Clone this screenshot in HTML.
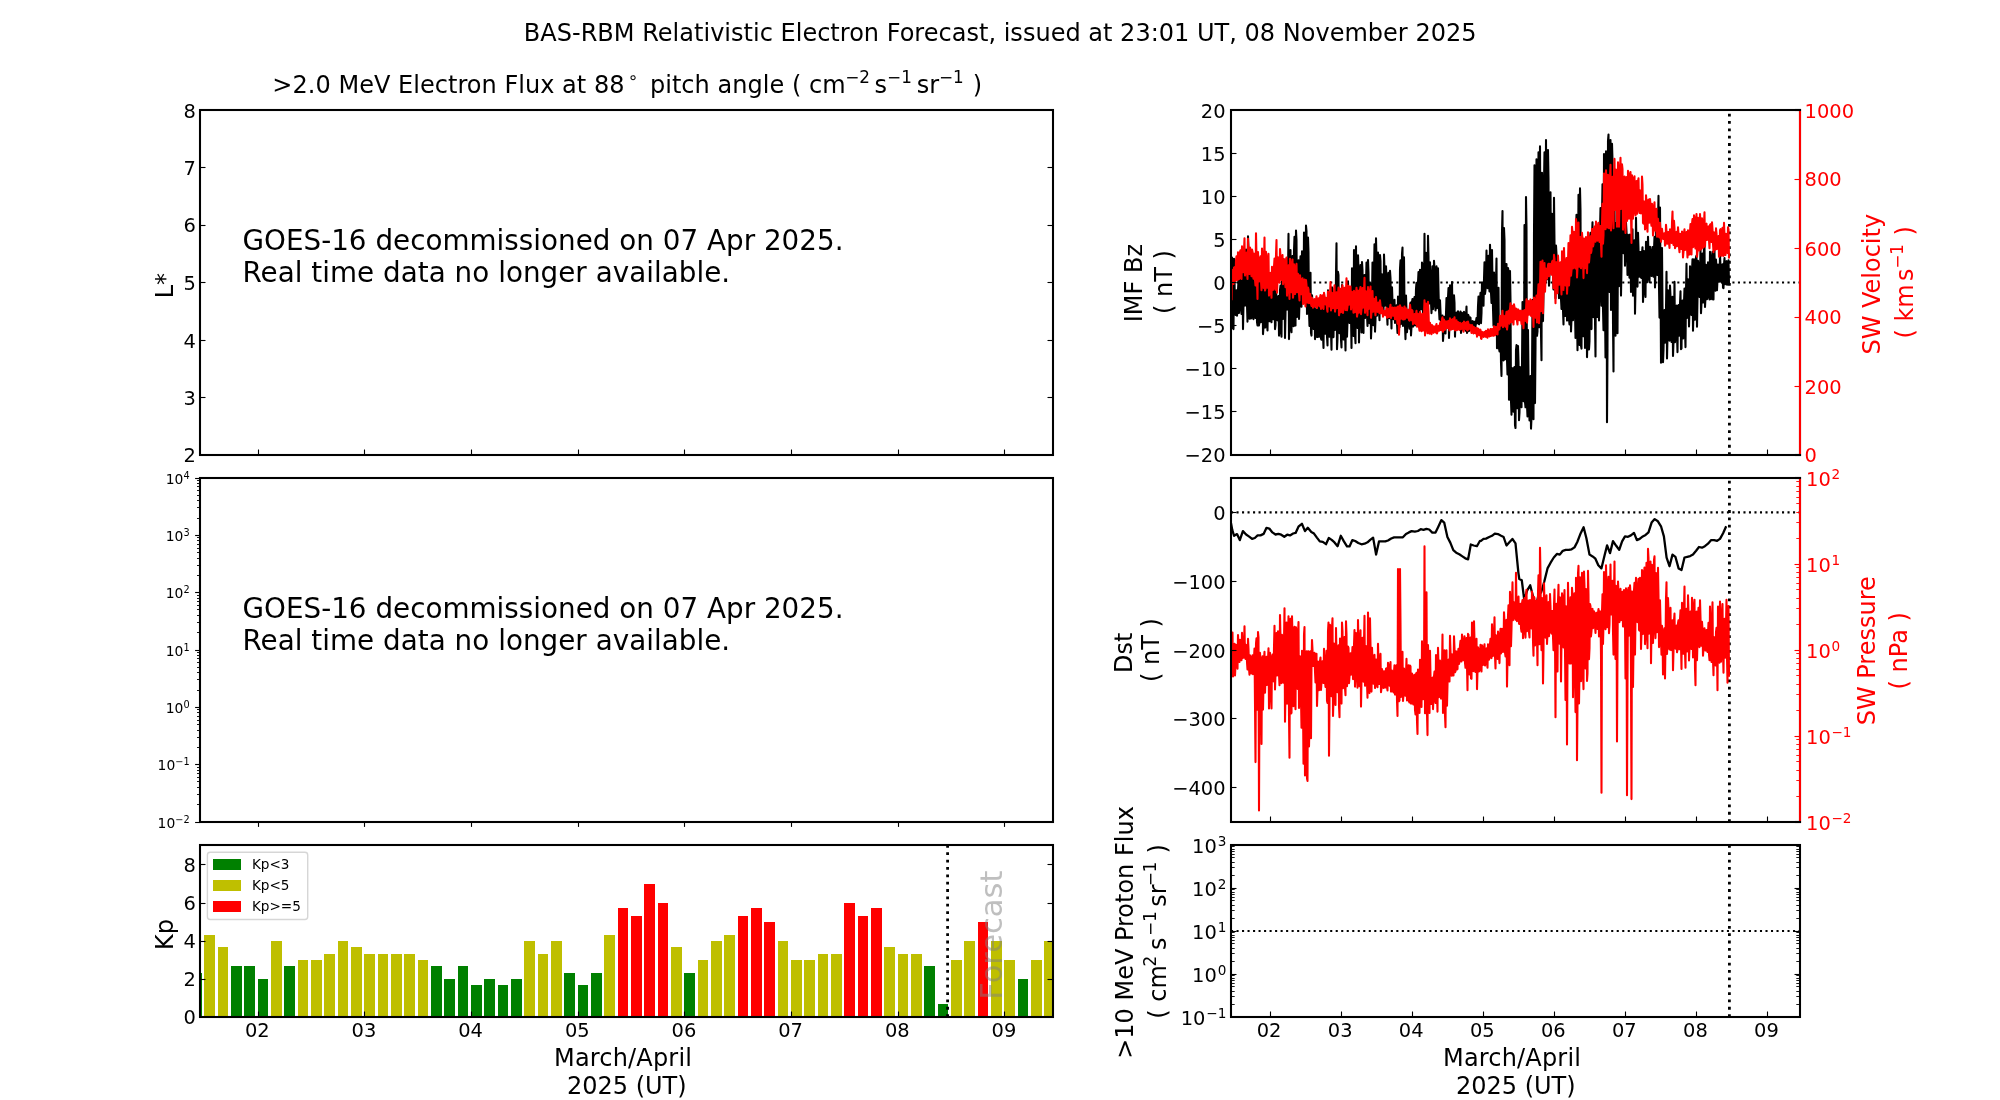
<!DOCTYPE html>
<html><head><meta charset="utf-8"><title>BAS-RBM Relativistic Electron Forecast</title>
<style>html,body{margin:0;padding:0;background:#fff}svg{display:block;will-change:transform}text{font-family:"DejaVu Sans","Liberation Sans",sans-serif;white-space:pre}</style></head>
<body>
<svg width="2000" height="1100" viewBox="0 0 2000 1100">
<rect width="2000" height="1100" fill="#fff"/>
<text x="1000.20" y="41.00" font-size="24" text-anchor="middle" textLength="952.7" lengthAdjust="spacing">BAS-RBM Relativistic Electron Forecast, issued at 23:01 UT, 08 November 2025</text>
<text x="272.31" y="93.00" font-size="24" textLength="352.2" lengthAdjust="spacing">&gt;2.0 MeV Electron Flux at 88</text>
<text x="627.64" y="82.80" font-size="16.8">∘</text>
<text x="649.92" y="93.00" font-size="24" textLength="195.7" lengthAdjust="spacing">pitch angle ( cm</text>
<text x="845.32" y="82.70" font-size="16.8">−2</text>
<text x="874.60" y="93.00" font-size="24">s</text>
<text x="887.12" y="82.70" font-size="16.8">−1</text>
<text x="916.80" y="93.00" font-size="24">sr</text>
<text x="939.02" y="82.70" font-size="16.8">−1</text>
<text x="972.78" y="93.00" font-size="24">)</text>
<text x="195.80" y="462.00" font-size="19.44" text-anchor="end">2</text>
<line x1="200.00" y1="397.50" x2="205.50" y2="397.50" stroke="#000" stroke-width="1.11"/>
<line x1="1053.00" y1="397.50" x2="1047.50" y2="397.50" stroke="#000" stroke-width="1.11"/>
<text x="195.80" y="405.00" font-size="19.44" text-anchor="end">3</text>
<line x1="200.00" y1="340.50" x2="205.50" y2="340.50" stroke="#000" stroke-width="1.11"/>
<line x1="1053.00" y1="340.50" x2="1047.50" y2="340.50" stroke="#000" stroke-width="1.11"/>
<text x="195.80" y="348.00" font-size="19.44" text-anchor="end">4</text>
<line x1="200.00" y1="282.50" x2="205.50" y2="282.50" stroke="#000" stroke-width="1.11"/>
<line x1="1053.00" y1="282.50" x2="1047.50" y2="282.50" stroke="#000" stroke-width="1.11"/>
<text x="195.80" y="290.00" font-size="19.44" text-anchor="end">5</text>
<line x1="200.00" y1="225.50" x2="205.50" y2="225.50" stroke="#000" stroke-width="1.11"/>
<line x1="1053.00" y1="225.50" x2="1047.50" y2="225.50" stroke="#000" stroke-width="1.11"/>
<text x="195.80" y="232.00" font-size="19.44" text-anchor="end">6</text>
<line x1="200.00" y1="167.50" x2="205.50" y2="167.50" stroke="#000" stroke-width="1.11"/>
<line x1="1053.00" y1="167.50" x2="1047.50" y2="167.50" stroke="#000" stroke-width="1.11"/>
<text x="195.80" y="175.00" font-size="19.44" text-anchor="end">7</text>
<text x="195.80" y="118.00" font-size="19.44" text-anchor="end">8</text>
<line x1="258.50" y1="455.00" x2="258.50" y2="449.50" stroke="#000" stroke-width="1.11"/>
<line x1="364.50" y1="455.00" x2="364.50" y2="449.50" stroke="#000" stroke-width="1.11"/>
<line x1="471.50" y1="455.00" x2="471.50" y2="449.50" stroke="#000" stroke-width="1.11"/>
<line x1="578.50" y1="455.00" x2="578.50" y2="449.50" stroke="#000" stroke-width="1.11"/>
<line x1="684.50" y1="455.00" x2="684.50" y2="449.50" stroke="#000" stroke-width="1.11"/>
<line x1="791.50" y1="455.00" x2="791.50" y2="449.50" stroke="#000" stroke-width="1.11"/>
<line x1="898.50" y1="455.00" x2="898.50" y2="449.50" stroke="#000" stroke-width="1.11"/>
<line x1="1004.50" y1="455.00" x2="1004.50" y2="449.50" stroke="#000" stroke-width="1.11"/>
<rect x="200" y="110" width="853" height="345" fill="none" stroke="#000" stroke-width="2.08"/>
<text x="242.50" y="250.00" font-size="27.78" textLength="601.0" lengthAdjust="spacing">GOES-16 decommissioned on 07 Apr 2025.</text>
<text x="242.50" y="282.00" font-size="27.78" textLength="487.6" lengthAdjust="spacing">Real time data no longer available.</text>
<text x="173.00" y="298.36" font-size="24" transform="rotate(-90 173.00 298.36)">L*</text>
<line x1="200.00" y1="478.50" x2="195.10" y2="478.50" stroke="#000" stroke-width="1.11"/>
<line x1="200.00" y1="518.50" x2="197.00" y2="518.50" stroke="#000" stroke-width="0.9"/>
<line x1="200.00" y1="507.50" x2="197.00" y2="507.50" stroke="#000" stroke-width="0.9"/>
<line x1="200.00" y1="500.50" x2="197.00" y2="500.50" stroke="#000" stroke-width="0.9"/>
<line x1="200.00" y1="495.50" x2="197.00" y2="495.50" stroke="#000" stroke-width="0.9"/>
<line x1="200.00" y1="490.50" x2="197.00" y2="490.50" stroke="#000" stroke-width="0.9"/>
<line x1="200.00" y1="486.50" x2="197.00" y2="486.50" stroke="#000" stroke-width="0.9"/>
<line x1="200.00" y1="483.50" x2="197.00" y2="483.50" stroke="#000" stroke-width="0.9"/>
<line x1="200.00" y1="480.50" x2="197.00" y2="480.50" stroke="#000" stroke-width="0.9"/>
<text x="183.42" y="478.80" font-size="9.72">4</text>
<text x="183.42" y="483.60" font-size="13.89" text-anchor="end">10</text>
<line x1="200.00" y1="535.50" x2="195.10" y2="535.50" stroke="#000" stroke-width="1.11"/>
<line x1="200.00" y1="575.50" x2="197.00" y2="575.50" stroke="#000" stroke-width="0.9"/>
<line x1="200.00" y1="565.50" x2="197.00" y2="565.50" stroke="#000" stroke-width="0.9"/>
<line x1="200.00" y1="558.50" x2="197.00" y2="558.50" stroke="#000" stroke-width="0.9"/>
<line x1="200.00" y1="552.50" x2="197.00" y2="552.50" stroke="#000" stroke-width="0.9"/>
<line x1="200.00" y1="548.50" x2="197.00" y2="548.50" stroke="#000" stroke-width="0.9"/>
<line x1="200.00" y1="544.50" x2="197.00" y2="544.50" stroke="#000" stroke-width="0.9"/>
<line x1="200.00" y1="540.50" x2="197.00" y2="540.50" stroke="#000" stroke-width="0.9"/>
<line x1="200.00" y1="537.50" x2="197.00" y2="537.50" stroke="#000" stroke-width="0.9"/>
<text x="183.42" y="536.13" font-size="9.72">3</text>
<text x="183.42" y="540.93" font-size="13.89" text-anchor="end">10</text>
<line x1="200.00" y1="592.50" x2="195.10" y2="592.50" stroke="#000" stroke-width="1.11"/>
<line x1="200.00" y1="632.50" x2="197.00" y2="632.50" stroke="#000" stroke-width="0.9"/>
<line x1="200.00" y1="622.50" x2="197.00" y2="622.50" stroke="#000" stroke-width="0.9"/>
<line x1="200.00" y1="615.50" x2="197.00" y2="615.50" stroke="#000" stroke-width="0.9"/>
<line x1="200.00" y1="609.50" x2="197.00" y2="609.50" stroke="#000" stroke-width="0.9"/>
<line x1="200.00" y1="605.50" x2="197.00" y2="605.50" stroke="#000" stroke-width="0.9"/>
<line x1="200.00" y1="601.50" x2="197.00" y2="601.50" stroke="#000" stroke-width="0.9"/>
<line x1="200.00" y1="598.50" x2="197.00" y2="598.50" stroke="#000" stroke-width="0.9"/>
<line x1="200.00" y1="595.50" x2="197.00" y2="595.50" stroke="#000" stroke-width="0.9"/>
<text x="183.42" y="593.47" font-size="9.72">2</text>
<text x="183.42" y="598.27" font-size="13.89" text-anchor="end">10</text>
<line x1="200.00" y1="650.50" x2="195.10" y2="650.50" stroke="#000" stroke-width="1.11"/>
<line x1="200.00" y1="690.50" x2="197.00" y2="690.50" stroke="#000" stroke-width="0.9"/>
<line x1="200.00" y1="679.50" x2="197.00" y2="679.50" stroke="#000" stroke-width="0.9"/>
<line x1="200.00" y1="672.50" x2="197.00" y2="672.50" stroke="#000" stroke-width="0.9"/>
<line x1="200.00" y1="667.50" x2="197.00" y2="667.50" stroke="#000" stroke-width="0.9"/>
<line x1="200.00" y1="662.50" x2="197.00" y2="662.50" stroke="#000" stroke-width="0.9"/>
<line x1="200.00" y1="658.50" x2="197.00" y2="658.50" stroke="#000" stroke-width="0.9"/>
<line x1="200.00" y1="655.50" x2="197.00" y2="655.50" stroke="#000" stroke-width="0.9"/>
<line x1="200.00" y1="652.50" x2="197.00" y2="652.50" stroke="#000" stroke-width="0.9"/>
<text x="183.42" y="650.80" font-size="9.72">1</text>
<text x="183.42" y="655.60" font-size="13.89" text-anchor="end">10</text>
<line x1="200.00" y1="707.50" x2="195.10" y2="707.50" stroke="#000" stroke-width="1.11"/>
<line x1="200.00" y1="747.50" x2="197.00" y2="747.50" stroke="#000" stroke-width="0.9"/>
<line x1="200.00" y1="737.50" x2="197.00" y2="737.50" stroke="#000" stroke-width="0.9"/>
<line x1="200.00" y1="730.50" x2="197.00" y2="730.50" stroke="#000" stroke-width="0.9"/>
<line x1="200.00" y1="724.50" x2="197.00" y2="724.50" stroke="#000" stroke-width="0.9"/>
<line x1="200.00" y1="720.50" x2="197.00" y2="720.50" stroke="#000" stroke-width="0.9"/>
<line x1="200.00" y1="716.50" x2="197.00" y2="716.50" stroke="#000" stroke-width="0.9"/>
<line x1="200.00" y1="712.50" x2="197.00" y2="712.50" stroke="#000" stroke-width="0.9"/>
<line x1="200.00" y1="709.50" x2="197.00" y2="709.50" stroke="#000" stroke-width="0.9"/>
<text x="183.42" y="708.13" font-size="9.72">0</text>
<text x="183.42" y="712.93" font-size="13.89" text-anchor="end">10</text>
<line x1="200.00" y1="764.50" x2="195.10" y2="764.50" stroke="#000" stroke-width="1.11"/>
<line x1="200.00" y1="804.50" x2="197.00" y2="804.50" stroke="#000" stroke-width="0.9"/>
<line x1="200.00" y1="794.50" x2="197.00" y2="794.50" stroke="#000" stroke-width="0.9"/>
<line x1="200.00" y1="787.50" x2="197.00" y2="787.50" stroke="#000" stroke-width="0.9"/>
<line x1="200.00" y1="781.50" x2="197.00" y2="781.50" stroke="#000" stroke-width="0.9"/>
<line x1="200.00" y1="777.50" x2="197.00" y2="777.50" stroke="#000" stroke-width="0.9"/>
<line x1="200.00" y1="773.50" x2="197.00" y2="773.50" stroke="#000" stroke-width="0.9"/>
<line x1="200.00" y1="770.50" x2="197.00" y2="770.50" stroke="#000" stroke-width="0.9"/>
<line x1="200.00" y1="767.50" x2="197.00" y2="767.50" stroke="#000" stroke-width="0.9"/>
<text x="175.27" y="765.47" font-size="9.72">−1</text>
<text x="175.27" y="770.27" font-size="13.89" text-anchor="end">10</text>
<line x1="200.00" y1="822.50" x2="195.10" y2="822.50" stroke="#000" stroke-width="1.11"/>
<text x="175.27" y="822.80" font-size="9.72">−2</text>
<text x="175.27" y="827.60" font-size="13.89" text-anchor="end">10</text>
<line x1="258.50" y1="822.00" x2="258.50" y2="826.90" stroke="#000" stroke-width="1.11"/>
<line x1="364.50" y1="822.00" x2="364.50" y2="826.90" stroke="#000" stroke-width="1.11"/>
<line x1="471.50" y1="822.00" x2="471.50" y2="826.90" stroke="#000" stroke-width="1.11"/>
<line x1="578.50" y1="822.00" x2="578.50" y2="826.90" stroke="#000" stroke-width="1.11"/>
<line x1="684.50" y1="822.00" x2="684.50" y2="826.90" stroke="#000" stroke-width="1.11"/>
<line x1="791.50" y1="822.00" x2="791.50" y2="826.90" stroke="#000" stroke-width="1.11"/>
<line x1="898.50" y1="822.00" x2="898.50" y2="826.90" stroke="#000" stroke-width="1.11"/>
<line x1="1004.50" y1="822.00" x2="1004.50" y2="826.90" stroke="#000" stroke-width="1.11"/>
<rect x="200" y="478" width="853" height="344" fill="none" stroke="#000" stroke-width="2.08"/>
<text x="242.50" y="618.00" font-size="27.78" textLength="601.0" lengthAdjust="spacing">GOES-16 decommissioned on 07 Apr 2025.</text>
<text x="242.50" y="650.00" font-size="27.78" textLength="487.6" lengthAdjust="spacing">Real time data no longer available.</text>
<clipPath id="ckp"><rect x="200" y="845" width="853" height="172"/></clipPath>
<g clip-path="url(#ckp)" shape-rendering="crispEdges">
<rect x="191" y="973" width="11" height="44" fill="#008000"/>
<rect x="204" y="935" width="11" height="82" fill="#bfbf00"/>
<rect x="218" y="947" width="10" height="70" fill="#bfbf00"/>
<rect x="231" y="966" width="11" height="51" fill="#008000"/>
<rect x="244" y="966" width="11" height="51" fill="#008000"/>
<rect x="258" y="979" width="10" height="38" fill="#008000"/>
<rect x="271" y="941" width="11" height="76" fill="#bfbf00"/>
<rect x="284" y="966" width="11" height="51" fill="#008000"/>
<rect x="298" y="960" width="10" height="57" fill="#bfbf00"/>
<rect x="311" y="960" width="11" height="57" fill="#bfbf00"/>
<rect x="324" y="954" width="11" height="63" fill="#bfbf00"/>
<rect x="338" y="941" width="10" height="76" fill="#bfbf00"/>
<rect x="351" y="947" width="11" height="70" fill="#bfbf00"/>
<rect x="364" y="954" width="11" height="63" fill="#bfbf00"/>
<rect x="378" y="954" width="10" height="63" fill="#bfbf00"/>
<rect x="391" y="954" width="11" height="63" fill="#bfbf00"/>
<rect x="404" y="954" width="11" height="63" fill="#bfbf00"/>
<rect x="418" y="960" width="10" height="57" fill="#bfbf00"/>
<rect x="431" y="966" width="11" height="51" fill="#008000"/>
<rect x="444" y="979" width="11" height="38" fill="#008000"/>
<rect x="458" y="966" width="10" height="51" fill="#008000"/>
<rect x="471" y="985" width="11" height="32" fill="#008000"/>
<rect x="484" y="979" width="11" height="38" fill="#008000"/>
<rect x="498" y="985" width="10" height="32" fill="#008000"/>
<rect x="511" y="979" width="11" height="38" fill="#008000"/>
<rect x="524" y="941" width="11" height="76" fill="#bfbf00"/>
<rect x="538" y="954" width="10" height="63" fill="#bfbf00"/>
<rect x="551" y="941" width="11" height="76" fill="#bfbf00"/>
<rect x="564" y="973" width="11" height="44" fill="#008000"/>
<rect x="578" y="985" width="10" height="32" fill="#008000"/>
<rect x="591" y="973" width="11" height="44" fill="#008000"/>
<rect x="604" y="935" width="11" height="82" fill="#bfbf00"/>
<rect x="618" y="908" width="10" height="109" fill="#ff0000"/>
<rect x="631" y="916" width="11" height="101" fill="#ff0000"/>
<rect x="644" y="884" width="11" height="133" fill="#ff0000"/>
<rect x="658" y="903" width="10" height="114" fill="#ff0000"/>
<rect x="671" y="947" width="11" height="70" fill="#bfbf00"/>
<rect x="684" y="973" width="11" height="44" fill="#008000"/>
<rect x="698" y="960" width="10" height="57" fill="#bfbf00"/>
<rect x="711" y="941" width="11" height="76" fill="#bfbf00"/>
<rect x="724" y="935" width="11" height="82" fill="#bfbf00"/>
<rect x="738" y="916" width="10" height="101" fill="#ff0000"/>
<rect x="751" y="908" width="11" height="109" fill="#ff0000"/>
<rect x="764" y="922" width="11" height="95" fill="#ff0000"/>
<rect x="778" y="941" width="10" height="76" fill="#bfbf00"/>
<rect x="791" y="960" width="11" height="57" fill="#bfbf00"/>
<rect x="804" y="960" width="11" height="57" fill="#bfbf00"/>
<rect x="818" y="954" width="10" height="63" fill="#bfbf00"/>
<rect x="831" y="954" width="11" height="63" fill="#bfbf00"/>
<rect x="844" y="903" width="11" height="114" fill="#ff0000"/>
<rect x="858" y="916" width="10" height="101" fill="#ff0000"/>
<rect x="871" y="908" width="11" height="109" fill="#ff0000"/>
<rect x="884" y="947" width="11" height="70" fill="#bfbf00"/>
<rect x="898" y="954" width="10" height="63" fill="#bfbf00"/>
<rect x="911" y="954" width="11" height="63" fill="#bfbf00"/>
<rect x="924" y="966" width="11" height="51" fill="#008000"/>
<rect x="938" y="1004" width="10" height="13" fill="#008000"/>
<rect x="951" y="960" width="11" height="57" fill="#bfbf00"/>
<rect x="964" y="941" width="11" height="76" fill="#bfbf00"/>
<rect x="978" y="922" width="10" height="95" fill="#ff0000"/>
<rect x="991" y="941" width="11" height="76" fill="#bfbf00"/>
<rect x="1004" y="960" width="11" height="57" fill="#bfbf00"/>
<rect x="1018" y="979" width="10" height="38" fill="#008000"/>
<rect x="1031" y="960" width="11" height="57" fill="#bfbf00"/>
<rect x="1044" y="941" width="11" height="76" fill="#bfbf00"/>
</g>
<line x1="947.60" y1="1017.00" x2="947.60" y2="845.00" stroke="#000" stroke-width="2.78" stroke-dasharray="2.78 4.58"/>
<text x="1002.00" y="999.80" font-size="30.56" fill="#808080" transform="rotate(-90 1002.00 999.80)" fill-opacity="0.5">Forecast</text>
<text x="195.80" y="1024.00" font-size="19.44" text-anchor="end">0</text>
<line x1="200.00" y1="979.50" x2="205.50" y2="979.50" stroke="#000" stroke-width="1.11"/>
<line x1="1053.00" y1="979.50" x2="1047.50" y2="979.50" stroke="#000" stroke-width="1.11"/>
<text x="195.80" y="986.00" font-size="19.44" text-anchor="end">2</text>
<line x1="200.00" y1="941.50" x2="205.50" y2="941.50" stroke="#000" stroke-width="1.11"/>
<line x1="1053.00" y1="941.50" x2="1047.50" y2="941.50" stroke="#000" stroke-width="1.11"/>
<text x="195.80" y="948.00" font-size="19.44" text-anchor="end">4</text>
<line x1="200.00" y1="903.50" x2="205.50" y2="903.50" stroke="#000" stroke-width="1.11"/>
<line x1="1053.00" y1="903.50" x2="1047.50" y2="903.50" stroke="#000" stroke-width="1.11"/>
<text x="195.80" y="910.00" font-size="19.44" text-anchor="end">6</text>
<line x1="200.00" y1="864.50" x2="205.50" y2="864.50" stroke="#000" stroke-width="1.11"/>
<line x1="1053.00" y1="864.50" x2="1047.50" y2="864.50" stroke="#000" stroke-width="1.11"/>
<text x="195.80" y="872.00" font-size="19.44" text-anchor="end">8</text>
<line x1="258.50" y1="1017.00" x2="258.50" y2="1011.50" stroke="#000" stroke-width="1.11"/>
<line x1="364.50" y1="1017.00" x2="364.50" y2="1011.50" stroke="#000" stroke-width="1.11"/>
<line x1="471.50" y1="1017.00" x2="471.50" y2="1011.50" stroke="#000" stroke-width="1.11"/>
<line x1="578.50" y1="1017.00" x2="578.50" y2="1011.50" stroke="#000" stroke-width="1.11"/>
<line x1="684.50" y1="1017.00" x2="684.50" y2="1011.50" stroke="#000" stroke-width="1.11"/>
<line x1="791.50" y1="1017.00" x2="791.50" y2="1011.50" stroke="#000" stroke-width="1.11"/>
<line x1="898.50" y1="1017.00" x2="898.50" y2="1011.50" stroke="#000" stroke-width="1.11"/>
<line x1="1004.50" y1="1017.00" x2="1004.50" y2="1011.50" stroke="#000" stroke-width="1.11"/>
<rect x="200" y="845" width="853" height="172" fill="none" stroke="#000" stroke-width="2.08"/>
<text x="257.27" y="1037.00" font-size="19.44" text-anchor="middle">02</text>
<text x="363.94" y="1037.00" font-size="19.44" text-anchor="middle">03</text>
<text x="470.60" y="1037.00" font-size="19.44" text-anchor="middle">04</text>
<text x="577.27" y="1037.00" font-size="19.44" text-anchor="middle">05</text>
<text x="683.94" y="1037.00" font-size="19.44" text-anchor="middle">06</text>
<text x="790.60" y="1037.00" font-size="19.44" text-anchor="middle">07</text>
<text x="897.27" y="1037.00" font-size="19.44" text-anchor="middle">08</text>
<text x="1003.94" y="1037.00" font-size="19.44" text-anchor="middle">09</text>
<text x="173.00" y="950.05" font-size="24" transform="rotate(-90 173.00 950.05)">Kp</text>
<rect x="207.4" y="852.2" width="100.3" height="67.3" rx="2.8" fill="#fff" fill-opacity="0.8" stroke="#cccccc" stroke-opacity="0.8" stroke-width="1.39"/>
<rect x="213" y="859" width="28" height="11" fill="#008000" shape-rendering="crispEdges"/>
<text x="251.90" y="869.30" font-size="13.6">Kp&lt;3</text>
<rect x="213" y="880" width="28" height="11" fill="#bfbf00" shape-rendering="crispEdges"/>
<text x="251.90" y="890.13" font-size="13.6">Kp&lt;5</text>
<rect x="213" y="901" width="28" height="11" fill="#ff0000" shape-rendering="crispEdges"/>
<text x="251.90" y="910.96" font-size="13.6">Kp&gt;=5</text>
<text x="623.00" y="1066.00" font-size="24" text-anchor="middle" textLength="137.8" lengthAdjust="spacing">March/April</text>
<text x="626.80" y="1094.00" font-size="24" text-anchor="middle">2025 (UT)</text>
<clipPath id="c1"><rect x="1231" y="110" width="569" height="345"/></clipPath>
<line x1="1231.00" y1="282.50" x2="1800.00" y2="282.50" stroke="#000" stroke-width="2.08" stroke-dasharray="2.08 3.43"/>
<line x1="1729.40" y1="455.00" x2="1729.40" y2="110.00" stroke="#000" stroke-width="2.78" stroke-dasharray="2.78 4.58"/>
<g clip-path="url(#c1)" fill="none" stroke-width="2.08" stroke-linejoin="round">
<path d="M1231.5 329.1 L1232.0 257.6 L1232.5 265.8 L1233.0 320.1 L1233.5 329.1 L1234.0 258.9 L1234.5 278.7 L1235.0 313.8 L1235.5 314.8 L1236.0 293.4 L1236.5 290.3 L1237.0 315.7 L1237.5 310.8 L1238.0 290.2 L1238.5 280.2 L1239.0 312.9 L1239.5 304.0 L1240.0 278.3 L1240.5 277.5 L1241.0 307.8 L1241.5 313.9 L1242.0 284.2 L1242.5 271.2 L1243.0 329.1 L1243.5 304.3 L1244.0 270.8 L1244.5 278.3 L1245.0 305.6 L1245.5 304.1 L1246.0 249.5 L1246.5 279.7 L1247.0 304.6 L1247.5 321.6 L1248.0 236.3 L1248.5 249.4 L1249.0 314.6 L1249.5 318.7 L1250.0 272.1 L1250.5 279.8 L1251.0 318.4 L1251.5 318.0 L1252.0 270.2 L1252.5 280.4 L1253.0 312.7 L1253.5 319.1 L1254.0 271.4 L1254.5 277.5 L1255.0 310.6 L1255.5 317.9 L1256.0 276.8 L1256.5 285.2 L1257.0 322.0 L1257.5 325.4 L1258.0 277.0 L1258.5 284.7 L1259.0 325.4 L1259.5 321.6 L1260.0 280.5 L1260.5 287.7 L1261.0 322.2 L1261.5 320.4 L1262.0 289.5 L1262.5 278.9 L1263.0 334.1 L1263.5 326.4 L1264.0 288.7 L1264.5 282.4 L1265.0 327.6 L1265.5 326.9 L1266.0 283.8 L1266.5 283.3 L1267.0 324.1 L1267.5 330.4 L1268.0 292.6 L1268.5 281.4 L1269.0 317.8 L1269.5 321.3 L1270.0 294.0 L1270.5 287.2 L1271.0 315.7 L1271.5 322.3 L1272.0 284.2 L1272.5 280.8 L1273.0 316.6 L1273.5 319.3 L1274.0 280.5 L1274.5 280.2 L1275.0 329.1 L1275.5 325.1 L1276.0 291.4 L1276.5 297.8 L1277.0 319.9 L1277.5 320.3 L1278.0 298.6 L1278.5 296.0 L1279.0 335.6 L1279.5 328.0 L1280.0 290.2 L1280.5 285.6 L1281.0 330.9 L1281.5 336.7 L1282.0 276.7 L1282.5 287.4 L1283.0 319.0 L1283.5 317.4 L1284.0 286.8 L1284.5 277.2 L1285.0 337.9 L1285.5 314.3 L1286.0 277.5 L1286.5 258.5 L1287.0 309.6 L1287.5 305.8 L1288.0 272.6 L1288.5 233.9 L1289.0 339.1 L1289.5 312.7 L1290.0 267.8 L1290.5 250.1 L1291.0 329.5 L1291.5 332.3 L1292.0 259.3 L1292.5 256.0 L1293.0 321.1 L1293.5 326.2 L1294.0 250.8 L1294.5 236.7 L1295.0 325.6 L1295.5 325.5 L1296.0 230.6 L1296.5 240.1 L1297.0 316.9 L1297.5 305.6 L1298.0 266.3 L1298.5 260.3 L1299.0 319.0 L1299.5 302.7 L1300.0 267.8 L1300.5 256.4 L1301.0 301.4 L1301.5 306.8 L1302.0 251.3 L1302.5 261.4 L1303.0 298.8 L1303.5 301.8 L1304.0 232.5 L1304.5 260.9 L1305.0 300.7 L1305.5 303.4 L1306.0 225.6 L1306.5 231.3 L1307.0 314.0 L1307.5 301.3 L1308.0 237.5 L1308.5 252.3 L1309.0 311.5 L1309.5 326.0 L1310.0 274.2 L1310.5 272.7 L1311.0 333.0 L1311.5 335.6 L1312.0 295.2 L1312.5 302.0 L1313.0 327.1 L1313.5 328.9 L1314.0 305.3 L1314.5 300.3 L1315.0 339.1 L1315.5 331.8 L1316.0 309.4 L1316.5 312.3 L1317.0 337.0 L1317.5 336.9 L1318.0 310.4 L1318.5 304.9 L1319.0 336.8 L1319.5 332.2 L1320.0 308.2 L1320.5 311.9 L1321.0 338.8 L1321.5 339.6 L1322.0 308.4 L1322.5 309.4 L1323.0 334.5 L1323.5 347.9 L1324.0 294.0 L1324.5 311.3 L1325.0 329.7 L1325.5 333.8 L1326.0 305.2 L1326.5 302.7 L1327.0 336.5 L1327.5 345.5 L1328.0 290.2 L1328.5 294.3 L1329.0 335.4 L1329.5 336.8 L1330.0 295.6 L1330.5 295.3 L1331.0 332.1 L1331.5 349.8 L1332.0 287.3 L1332.5 288.7 L1333.0 337.3 L1333.5 337.0 L1334.0 295.5 L1334.5 292.0 L1335.0 330.0 L1335.5 318.6 L1336.0 275.2 L1336.5 243.2 L1337.0 349.2 L1337.5 338.9 L1338.0 271.9 L1338.5 275.2 L1339.0 331.5 L1339.5 333.2 L1340.0 296.0 L1340.5 294.9 L1341.0 339.7 L1341.5 347.4 L1342.0 285.1 L1342.5 289.4 L1343.0 339.1 L1343.5 339.5 L1344.0 289.5 L1344.5 293.2 L1345.0 328.3 L1345.5 350.4 L1346.0 299.8 L1346.5 304.8 L1347.0 336.6 L1347.5 321.3 L1348.0 281.4 L1348.5 295.4 L1349.0 314.8 L1349.5 322.9 L1350.0 295.8 L1350.5 303.1 L1351.0 315.1 L1351.5 347.9 L1352.0 268.3 L1352.5 281.9 L1353.0 330.6 L1353.5 336.0 L1354.0 250.1 L1354.5 286.3 L1355.0 334.4 L1355.5 343.3 L1356.0 246.3 L1356.5 300.0 L1357.0 323.7 L1357.5 327.9 L1358.0 255.3 L1358.5 270.1 L1359.0 342.4 L1359.5 317.0 L1360.0 288.1 L1360.5 265.1 L1361.0 314.2 L1361.5 332.4 L1362.0 262.0 L1362.5 270.4 L1363.0 311.8 L1363.5 332.9 L1364.0 281.2 L1364.5 275.1 L1365.0 318.0 L1365.5 315.2 L1366.0 282.4 L1366.5 262.6 L1367.0 315.0 L1367.5 325.9 L1368.0 260.1 L1368.5 272.7 L1369.0 317.4 L1369.5 323.1 L1370.0 296.3 L1370.5 283.4 L1371.0 338.5 L1371.5 325.5 L1372.0 295.9 L1372.5 262.6 L1373.0 324.8 L1373.5 325.1 L1374.0 274.1 L1374.5 244.2 L1375.0 331.6 L1375.5 319.9 L1376.0 238.2 L1376.5 258.6 L1377.0 315.8 L1377.5 307.2 L1378.0 252.6 L1378.5 263.0 L1379.0 310.9 L1379.5 320.3 L1380.0 255.1 L1380.5 261.0 L1381.0 310.8 L1381.5 304.4 L1382.0 274.2 L1382.5 275.4 L1383.0 300.0 L1383.5 313.1 L1384.0 254.5 L1384.5 269.3 L1385.0 305.6 L1385.5 299.1 L1386.0 266.4 L1386.5 278.6 L1387.0 314.6 L1387.5 324.7 L1388.0 277.7 L1388.5 272.7 L1389.0 309.7 L1389.5 318.3 L1390.0 270.8 L1390.5 278.4 L1391.0 312.2 L1391.5 328.5 L1392.0 287.2 L1392.5 302.0 L1393.0 314.4 L1393.5 319.2 L1394.0 306.6 L1394.5 299.8 L1395.0 322.9 L1395.5 317.9 L1396.0 307.6 L1396.5 305.3 L1397.0 323.5 L1397.5 332.9 L1398.0 296.5 L1398.5 297.3 L1399.0 326.7 L1399.5 327.3 L1400.0 268.9 L1400.5 260.4 L1401.0 324.1 L1401.5 321.9 L1402.0 253.9 L1402.5 247.6 L1403.0 325.9 L1403.5 322.5 L1404.0 257.3 L1404.5 306.0 L1405.0 325.7 L1405.5 339.1 L1406.0 295.5 L1406.5 309.9 L1407.0 332.1 L1407.5 324.0 L1408.0 311.9 L1408.5 309.9 L1409.0 319.4 L1409.5 328.7 L1410.0 305.1 L1410.5 302.6 L1411.0 335.4 L1411.5 326.7 L1412.0 302.0 L1412.5 299.0 L1413.0 326.6 L1413.5 321.6 L1414.0 300.4 L1414.5 297.1 L1415.0 325.4 L1415.5 310.3 L1416.0 288.8 L1416.5 282.7 L1417.0 314.7 L1417.5 312.8 L1418.0 282.0 L1418.5 272.0 L1419.0 310.4 L1419.5 322.8 L1420.0 269.8 L1420.5 273.3 L1421.0 307.6 L1421.5 309.3 L1422.0 262.6 L1422.5 265.6 L1423.0 315.9 L1423.5 317.6 L1424.0 289.8 L1424.5 233.8 L1425.0 315.7 L1425.5 320.3 L1426.0 252.9 L1426.5 273.9 L1427.0 309.4 L1427.5 308.7 L1428.0 235.7 L1428.5 256.4 L1429.0 303.6 L1429.5 302.8 L1430.0 262.4 L1430.5 278.2 L1431.0 302.4 L1431.5 313.1 L1432.0 280.7 L1432.5 266.4 L1433.0 309.1 L1433.5 303.7 L1434.0 260.8 L1434.5 268.7 L1435.0 301.0 L1435.5 310.4 L1436.0 282.4 L1436.5 266.4 L1437.0 308.3 L1437.5 305.9 L1438.0 268.3 L1438.5 290.6 L1439.0 310.2 L1439.5 319.5 L1440.0 300.3 L1440.5 312.1 L1441.0 320.3 L1441.5 327.9 L1442.0 318.6 L1442.5 315.5 L1443.0 341.0 L1443.5 333.3 L1444.0 322.3 L1444.5 316.7 L1445.0 331.4 L1445.5 333.5 L1446.0 313.4 L1446.5 298.0 L1447.0 322.3 L1447.5 324.2 L1448.0 297.3 L1448.5 288.0 L1449.0 337.9 L1449.5 324.2 L1450.0 285.2 L1450.5 301.6 L1451.0 326.8 L1451.5 324.1 L1452.0 282.1 L1452.5 315.0 L1453.0 325.2 L1453.5 327.1 L1454.0 295.2 L1454.5 302.8 L1455.0 336.6 L1455.5 321.2 L1456.0 313.0 L1456.5 312.6 L1457.0 326.5 L1457.5 326.9 L1458.0 311.2 L1458.5 314.6 L1459.0 326.9 L1459.5 324.6 L1460.0 314.6 L1460.5 311.5 L1461.0 332.9 L1461.5 328.4 L1462.0 312.8 L1462.5 314.0 L1463.0 329.6 L1463.5 327.3 L1464.0 311.9 L1464.5 316.0 L1465.0 327.5 L1465.5 330.6 L1466.0 316.0 L1466.5 306.5 L1467.0 332.9 L1467.5 331.2 L1468.0 314.7 L1468.5 315.3 L1469.0 330.9 L1469.5 329.1 L1470.0 317.3 L1470.5 317.7 L1471.0 329.2 L1471.5 327.3 L1472.0 321.5 L1472.5 321.2 L1473.0 327.1 L1473.5 326.7 L1474.0 321.6 L1474.5 322.4 L1475.0 326.0 L1475.5 326.7 L1476.0 321.5 L1476.5 318.0 L1477.0 323.4 L1477.5 321.6 L1478.0 306.4 L1478.5 296.5 L1479.0 324.3 L1479.5 317.6 L1480.0 300.6 L1480.5 292.7 L1481.0 323.1 L1481.5 313.2 L1482.0 282.2 L1482.5 283.4 L1483.0 300.8 L1483.5 305.7 L1484.0 279.1 L1484.5 262.3 L1485.0 293.9 L1485.5 290.1 L1486.0 278.4 L1486.5 250.5 L1487.0 287.6 L1487.5 288.2 L1488.0 261.1 L1488.5 255.9 L1489.0 285.7 L1489.5 291.5 L1490.0 244.8 L1490.5 262.6 L1491.0 292.6 L1491.5 302.9 L1492.0 250.1 L1492.5 282.2 L1493.0 308.4 L1493.5 325.8 L1494.0 272.5 L1494.5 290.6 L1495.0 320.1 L1495.5 325.2 L1496.0 281.7 L1496.5 258.6 L1497.0 348.3 L1497.5 343.3 L1498.0 299.8 L1498.5 287.7 L1499.0 348.3 L1499.5 351.4 L1500.0 327.0 L1500.5 327.0 L1501.0 362.5 L1501.5 375.9 L1502.0 232.0 L1502.5 211.0 L1503.0 359.1 L1503.5 360.5 L1504.0 228.0 L1504.5 240.0 L1505.0 359.5 L1505.5 358.1 L1506.0 264.0 L1506.5 264.0 L1507.0 359.1 L1507.5 374.5 L1508.0 268.0 L1508.5 271.0 L1509.0 399.8 L1509.5 394.3 L1510.0 271.0 L1510.5 300.0 L1511.0 400.7 L1511.5 414.8 L1512.0 368.0 L1512.5 369.0 L1513.0 406.2 L1513.5 411.7 L1514.0 368.0 L1514.5 367.0 L1515.0 425.3 L1515.5 428.0 L1516.0 350.0 L1516.5 345.0 L1517.0 404.2 L1517.5 408.3 L1518.0 346.0 L1518.5 362.0 L1519.0 420.2 L1519.5 412.4 L1520.0 367.0 L1520.5 368.0 L1521.0 405.6 L1521.5 407.3 L1522.0 366.0 L1522.5 302.0 L1523.0 399.6 L1523.5 401.2 L1524.0 366.0 L1524.5 225.0 L1525.0 402.0 L1525.5 407.3 L1526.0 197.0 L1526.5 228.0 L1527.0 404.6 L1527.5 416.4 L1528.0 330.0 L1528.5 376.0 L1529.0 403.6 L1529.5 420.4 L1530.0 377.0 L1530.5 376.0 L1531.0 428.6 L1531.5 417.9 L1532.0 375.0 L1532.5 300.0 L1533.0 401.3 L1533.5 419.2 L1534.0 233.0 L1534.5 165.2 L1535.0 403.1 L1535.5 348.2 L1536.0 246.7 L1536.5 159.2 L1537.0 335.8 L1537.5 331.4 L1538.0 238.2 L1538.5 152.2 L1539.0 327.2 L1539.5 324.7 L1540.0 146.4 L1540.5 242.0 L1541.0 333.8 L1541.5 360.3 L1542.0 172.7 L1542.5 221.5 L1543.0 321.1 L1543.5 292.5 L1544.0 182.5 L1544.5 152.2 L1545.0 272.4 L1545.5 282.1 L1546.0 140.1 L1546.5 228.1 L1547.0 279.4 L1547.5 278.1 L1548.0 150.1 L1548.5 178.6 L1549.0 285.8 L1549.5 275.3 L1550.0 209.1 L1550.5 192.3 L1551.0 271.3 L1551.5 269.8 L1552.0 213.8 L1552.5 217.8 L1553.0 266.5 L1553.5 289.4 L1554.0 197.8 L1554.5 243.2 L1555.0 277.4 L1555.5 298.2 L1556.0 245.5 L1556.5 254.3 L1557.0 286.4 L1557.5 289.0 L1558.0 265.8 L1558.5 273.4 L1559.0 298.2 L1559.5 297.4 L1560.0 274.7 L1560.5 271.7 L1561.0 298.9 L1561.5 309.0 L1562.0 266.8 L1562.5 274.1 L1563.0 310.2 L1563.5 324.5 L1564.0 273.7 L1564.5 277.4 L1565.0 316.0 L1565.5 312.0 L1566.0 274.9 L1566.5 276.0 L1567.0 320.6 L1567.5 320.1 L1568.0 280.3 L1568.5 272.8 L1569.0 319.5 L1569.5 324.4 L1570.0 275.5 L1570.5 268.1 L1571.0 331.5 L1571.5 318.7 L1572.0 262.5 L1572.5 255.3 L1573.0 320.3 L1573.5 308.2 L1574.0 257.2 L1574.5 252.4 L1575.0 310.6 L1575.5 338.0 L1576.0 230.8 L1576.5 214.7 L1577.0 309.4 L1577.5 350.2 L1578.0 262.2 L1578.5 194.8 L1579.0 328.7 L1579.5 344.9 L1580.0 188.4 L1580.5 210.4 L1581.0 345.8 L1581.5 348.6 L1582.0 235.4 L1582.5 256.8 L1583.0 332.7 L1583.5 336.3 L1584.0 269.1 L1584.5 270.8 L1585.0 348.0 L1585.5 343.7 L1586.0 252.8 L1586.5 276.3 L1587.0 357.1 L1587.5 337.5 L1588.0 250.6 L1588.5 245.2 L1589.0 349.5 L1589.5 341.1 L1590.0 238.9 L1590.5 232.9 L1591.0 327.7 L1591.5 329.1 L1592.0 236.8 L1592.5 222.3 L1593.0 311.6 L1593.5 317.1 L1594.0 232.7 L1594.5 240.0 L1595.0 319.8 L1595.5 356.5 L1596.0 239.0 L1596.5 248.4 L1597.0 313.8 L1597.5 317.0 L1598.0 229.2 L1598.5 227.8 L1599.0 320.5 L1599.5 291.3 L1600.0 230.5 L1600.5 208.1 L1601.0 285.1 L1601.5 305.7 L1602.0 217.5 L1602.5 184.3 L1603.0 309.3 L1603.5 330.2 L1604.0 154.1 L1604.5 185.1 L1605.0 306.6 L1605.5 357.5 L1606.0 151.4 L1606.5 161.4 L1607.0 422.3 L1607.5 349.1 L1608.0 140.9 L1608.5 134.5 L1609.0 266.6 L1609.5 291.9 L1610.0 165.6 L1610.5 140.1 L1611.0 310.0 L1611.5 278.5 L1612.0 143.9 L1612.5 160.6 L1613.0 323.2 L1613.5 371.5 L1614.0 185.2 L1614.5 203.2 L1615.0 293.8 L1615.5 335.8 L1616.0 225.0 L1616.5 222.8 L1617.0 295.2 L1617.5 333.3 L1618.0 232.4 L1618.5 214.1 L1619.0 286.1 L1619.5 283.1 L1620.0 237.6 L1620.5 197.8 L1621.0 295.6 L1621.5 266.4 L1622.0 210.7 L1622.5 189.7 L1623.0 250.0 L1623.5 253.2 L1624.0 197.8 L1624.5 221.4 L1625.0 265.7 L1625.5 251.2 L1626.0 222.9 L1626.5 231.7 L1627.0 250.0 L1627.5 274.9 L1628.0 234.8 L1628.5 241.4 L1629.0 265.7 L1629.5 277.6 L1630.0 234.6 L1630.5 248.8 L1631.0 291.9 L1631.5 282.8 L1632.0 237.9 L1632.5 229.2 L1633.0 295.8 L1633.5 285.2 L1634.0 250.1 L1634.5 240.2 L1635.0 313.8 L1635.5 287.9 L1636.0 217.9 L1636.5 246.8 L1637.0 279.2 L1637.5 286.6 L1638.0 232.7 L1638.5 248.6 L1639.0 276.8 L1639.5 273.3 L1640.0 252.1 L1640.5 252.1 L1641.0 277.4 L1641.5 277.9 L1642.0 253.6 L1642.5 247.2 L1643.0 301.9 L1643.5 287.0 L1644.0 251.0 L1644.5 255.8 L1645.0 289.2 L1645.5 296.9 L1646.0 241.7 L1646.5 255.4 L1647.0 282.3 L1647.5 278.6 L1648.0 236.7 L1648.5 254.7 L1649.0 271.1 L1649.5 282.3 L1650.0 246.7 L1650.5 253.6 L1651.0 273.6 L1651.5 275.9 L1652.0 253.2 L1652.5 247.0 L1653.0 272.1 L1653.5 276.6 L1654.0 249.9 L1654.5 236.8 L1655.0 287.5 L1655.5 273.6 L1656.0 242.4 L1656.5 210.4 L1657.0 271.3 L1657.5 275.0 L1658.0 219.3 L1658.5 195.9 L1659.0 285.9 L1659.5 317.6 L1660.0 207.5 L1660.5 273.4 L1661.0 362.8 L1661.5 339.2 L1662.0 248.0 L1662.5 306.8 L1663.0 362.2 L1663.5 349.9 L1664.0 321.6 L1664.5 310.0 L1665.0 342.6 L1665.5 333.1 L1666.0 308.9 L1666.5 271.8 L1667.0 358.5 L1667.5 337.4 L1668.0 290.2 L1668.5 292.7 L1669.0 329.3 L1669.5 340.6 L1670.0 285.6 L1670.5 296.4 L1671.0 336.6 L1671.5 342.0 L1672.0 308.4 L1672.5 296.8 L1673.0 355.9 L1673.5 341.8 L1674.0 318.6 L1674.5 281.9 L1675.0 342.3 L1675.5 334.5 L1676.0 306.7 L1676.5 305.6 L1677.0 334.9 L1677.5 352.1 L1678.0 310.5 L1678.5 305.1 L1679.0 335.8 L1679.5 334.8 L1680.0 303.6 L1680.5 291.3 L1681.0 349.3 L1681.5 348.5 L1682.0 304.5 L1682.5 300.6 L1683.0 338.5 L1683.5 337.9 L1684.0 302.4 L1684.5 288.6 L1685.0 331.4 L1685.5 347.1 L1686.0 291.6 L1686.5 263.7 L1687.0 317.9 L1687.5 313.4 L1688.0 279.3 L1688.5 284.5 L1689.0 326.4 L1689.5 309.4 L1690.0 266.3 L1690.5 269.2 L1691.0 314.5 L1691.5 314.8 L1692.0 270.9 L1692.5 259.3 L1693.0 330.8 L1693.5 310.8 L1694.0 259.4 L1694.5 268.3 L1695.0 319.8 L1695.5 312.6 L1696.0 257.1 L1696.5 255.5 L1697.0 326.7 L1697.5 298.2 L1698.0 260.8 L1698.5 265.7 L1699.0 294.7 L1699.5 296.9 L1700.0 274.3 L1700.5 248.0 L1701.0 313.3 L1701.5 302.9 L1702.0 269.1 L1702.5 253.5 L1703.0 302.5 L1703.5 299.6 L1704.0 237.9 L1704.5 245.8 L1705.0 306.9 L1705.5 297.0 L1706.0 264.7 L1706.5 266.8 L1707.0 299.2 L1707.5 297.0 L1708.0 262.4 L1708.5 265.0 L1709.0 293.5 L1709.5 299.4 L1710.0 251.7 L1710.5 258.7 L1711.0 299.1 L1711.5 295.9 L1712.0 260.4 L1712.5 251.7 L1713.0 299.4 L1713.5 299.4 L1714.0 253.5 L1714.5 250.5 L1715.0 289.8 L1715.5 290.6 L1716.0 259.5 L1716.5 267.6 L1717.0 290.2 L1717.5 279.3 L1718.0 264.6 L1718.5 269.9 L1719.0 281.7 L1719.5 281.5 L1720.0 254.3 L1720.5 266.6 L1721.0 281.5 L1721.5 282.3 L1722.0 268.3 L1722.5 264.2 L1723.0 287.8 L1723.5 288.2 L1724.0 264.5 L1724.5 258.0 L1725.0 284.2 L1725.5 283.1 L1726.0 261.7 L1726.5 261.2 L1727.0 284.8 L1727.5 280.6 L1728.0 264.3 L1728.5 260.4 L1729.0 284.4" stroke="#000"/>
<path d="M1231.5 300.3 L1232.0 269.7 L1232.5 271.6 L1233.0 277.9 L1233.5 284.0 L1234.0 267.6 L1234.5 267.2 L1235.0 280.6 L1235.5 280.6 L1236.0 260.5 L1236.5 256.4 L1237.0 278.1 L1237.5 280.2 L1238.0 252.3 L1238.5 255.8 L1239.0 279.0 L1239.5 278.5 L1240.0 252.0 L1240.5 250.2 L1241.0 276.3 L1241.5 278.9 L1242.0 246.4 L1242.5 252.6 L1243.0 272.3 L1243.5 268.8 L1244.0 250.6 L1244.5 238.2 L1245.0 275.5 L1245.5 271.7 L1246.0 253.7 L1246.5 252.6 L1247.0 270.6 L1247.5 278.9 L1248.0 238.7 L1248.5 253.7 L1249.0 271.2 L1249.5 274.0 L1250.0 247.5 L1250.5 250.2 L1251.0 270.2 L1251.5 276.2 L1252.0 249.6 L1252.5 251.6 L1253.0 274.5 L1253.5 278.7 L1254.0 253.6 L1254.5 254.3 L1255.0 279.7 L1255.5 285.4 L1256.0 233.2 L1256.5 257.5 L1257.0 280.8 L1257.5 299.0 L1258.0 252.0 L1258.5 263.8 L1259.0 281.5 L1259.5 280.9 L1260.0 259.4 L1260.5 256.3 L1261.0 281.0 L1261.5 290.2 L1262.0 248.5 L1262.5 259.4 L1263.0 286.7 L1263.5 287.9 L1264.0 263.1 L1264.5 237.5 L1265.0 290.6 L1265.5 288.7 L1266.0 251.9 L1266.5 257.5 L1267.0 283.2 L1267.5 287.8 L1268.0 264.6 L1268.5 253.9 L1269.0 295.6 L1269.5 293.3 L1270.0 274.6 L1270.5 272.9 L1271.0 291.3 L1271.5 297.8 L1272.0 266.7 L1272.5 274.1 L1273.0 290.0 L1273.5 288.1 L1274.0 266.7 L1274.5 258.5 L1275.0 286.6 L1275.5 289.8 L1276.0 255.1 L1276.5 240.1 L1277.0 292.7 L1277.5 281.4 L1278.0 257.2 L1278.5 260.6 L1279.0 279.4 L1279.5 282.7 L1280.0 249.0 L1280.5 256.5 L1281.0 275.8 L1281.5 279.9 L1282.0 257.7 L1282.5 255.1 L1283.0 284.2 L1283.5 277.6 L1284.0 259.1 L1284.5 262.9 L1285.0 279.8 L1285.5 287.2 L1286.0 263.3 L1286.5 257.6 L1287.0 295.6 L1287.5 284.8 L1288.0 266.9 L1288.5 265.3 L1289.0 289.4 L1289.5 299.0 L1290.0 258.9 L1290.5 264.2 L1291.0 289.9 L1291.5 292.2 L1292.0 267.6 L1292.5 259.5 L1293.0 297.8 L1293.5 290.6 L1294.0 264.2 L1294.5 269.3 L1295.0 294.0 L1295.5 290.0 L1296.0 266.9 L1296.5 263.9 L1297.0 292.2 L1297.5 291.7 L1298.0 273.9 L1298.5 277.3 L1299.0 294.0 L1299.5 300.4 L1300.0 275.2 L1300.5 280.3 L1301.0 294.2 L1301.5 291.3 L1302.0 279.5 L1302.5 278.3 L1303.0 304.0 L1303.5 300.6 L1304.0 280.6 L1304.5 279.5 L1305.0 300.9 L1305.5 306.5 L1306.0 280.1 L1306.5 285.1 L1307.0 301.0 L1307.5 302.6 L1308.0 287.5 L1308.5 289.4 L1309.0 303.1 L1309.5 302.8 L1310.0 293.7 L1310.5 296.7 L1311.0 303.8 L1311.5 306.0 L1312.0 297.8 L1312.5 300.2 L1313.0 307.8 L1313.5 307.0 L1314.0 299.9 L1314.5 299.1 L1315.0 306.5 L1315.5 304.9 L1316.0 300.2 L1316.5 296.4 L1317.0 307.9 L1317.5 305.0 L1318.0 301.1 L1318.5 298.2 L1319.0 305.1 L1319.5 305.9 L1320.0 297.6 L1320.5 295.0 L1321.0 309.0 L1321.5 307.5 L1322.0 296.0 L1322.5 295.3 L1323.0 307.1 L1323.5 309.0 L1324.0 292.7 L1324.5 296.1 L1325.0 303.1 L1325.5 304.5 L1326.0 297.7 L1326.5 298.7 L1327.0 308.4 L1327.5 311.6 L1328.0 291.5 L1328.5 295.8 L1329.0 305.8 L1329.5 306.5 L1330.0 296.5 L1330.5 282.1 L1331.0 310.5 L1331.5 305.4 L1332.0 292.8 L1332.5 294.5 L1333.0 308.2 L1333.5 305.8 L1334.0 293.3 L1334.5 285.2 L1335.0 311.6 L1335.5 307.4 L1336.0 294.4 L1336.5 292.3 L1337.0 308.1 L1337.5 308.0 L1338.0 295.2 L1338.5 287.5 L1339.0 315.3 L1339.5 311.4 L1340.0 293.2 L1340.5 288.7 L1341.0 312.2 L1341.5 310.4 L1342.0 289.0 L1342.5 285.2 L1343.0 312.9 L1343.5 306.0 L1344.0 291.5 L1344.5 287.8 L1345.0 306.6 L1345.5 310.0 L1346.0 289.9 L1346.5 278.3 L1347.0 310.3 L1347.5 306.9 L1348.0 286.0 L1348.5 285.8 L1349.0 304.7 L1349.5 302.9 L1350.0 287.4 L1350.5 286.5 L1351.0 309.4 L1351.5 303.0 L1352.0 291.9 L1352.5 293.7 L1353.0 305.0 L1353.5 312.8 L1354.0 290.9 L1354.5 294.5 L1355.0 312.3 L1355.5 309.7 L1356.0 294.1 L1356.5 287.7 L1357.0 316.6 L1357.5 313.4 L1358.0 290.6 L1358.5 293.0 L1359.0 312.7 L1359.5 312.1 L1360.0 290.0 L1360.5 287.0 L1361.0 314.1 L1361.5 309.5 L1362.0 288.8 L1362.5 288.0 L1363.0 307.6 L1363.5 304.8 L1364.0 292.1 L1364.5 277.7 L1365.0 312.8 L1365.5 306.7 L1366.0 291.3 L1366.5 293.6 L1367.0 306.6 L1367.5 315.3 L1368.0 287.0 L1368.5 291.6 L1369.0 308.9 L1369.5 306.6 L1370.0 294.3 L1370.5 286.5 L1371.0 317.8 L1371.5 312.1 L1372.0 293.6 L1372.5 291.1 L1373.0 311.8 L1373.5 308.2 L1374.0 298.7 L1374.5 299.1 L1375.0 310.3 L1375.5 315.3 L1376.0 297.1 L1376.5 304.8 L1377.0 310.9 L1377.5 311.9 L1378.0 302.8 L1378.5 302.5 L1379.0 310.6 L1379.5 313.3 L1380.0 300.3 L1380.5 305.3 L1381.0 313.1 L1381.5 313.1 L1382.0 307.5 L1382.5 309.5 L1383.0 316.6 L1383.5 315.0 L1384.0 310.8 L1384.5 311.8 L1385.0 314.8 L1385.5 315.2 L1386.0 310.9 L1386.5 307.8 L1387.0 317.8 L1387.5 317.2 L1388.0 309.2 L1388.5 308.9 L1389.0 317.1 L1389.5 315.2 L1390.0 307.6 L1390.5 304.7 L1391.0 317.9 L1391.5 314.1 L1392.0 309.4 L1392.5 307.6 L1393.0 315.6 L1393.5 315.6 L1394.0 308.0 L1394.5 307.6 L1395.0 319.3 L1395.5 318.9 L1396.0 307.6 L1396.5 307.6 L1397.0 318.9 L1397.5 323.7 L1398.0 306.5 L1398.5 306.5 L1399.0 334.8 L1399.5 322.8 L1400.0 305.3 L1400.5 308.4 L1401.0 318.7 L1401.5 318.2 L1402.0 307.6 L1402.5 309.2 L1403.0 319.4 L1403.5 319.4 L1404.0 310.3 L1404.5 306.5 L1405.0 319.1 L1405.5 317.2 L1406.0 308.3 L1406.5 310.8 L1407.0 317.7 L1407.5 317.7 L1408.0 309.9 L1408.5 312.3 L1409.0 320.1 L1409.5 320.7 L1410.0 304.7 L1410.5 309.2 L1411.0 319.7 L1411.5 320.1 L1412.0 310.1 L1412.5 310.8 L1413.0 324.1 L1413.5 321.6 L1414.0 316.5 L1414.5 314.0 L1415.0 323.2 L1415.5 323.9 L1416.0 314.5 L1416.5 310.9 L1417.0 326.6 L1417.5 326.2 L1418.0 313.9 L1418.5 315.2 L1419.0 327.3 L1419.5 330.7 L1420.0 312.0 L1420.5 314.6 L1421.0 327.2 L1421.5 331.1 L1422.0 315.4 L1422.5 313.8 L1423.0 330.5 L1423.5 329.9 L1424.0 313.9 L1424.5 300.3 L1425.0 335.4 L1425.5 328.3 L1426.0 303.6 L1426.5 306.2 L1427.0 325.5 L1427.5 333.2 L1428.0 301.9 L1428.5 311.4 L1429.0 331.0 L1429.5 333.6 L1430.0 322.8 L1430.5 325.6 L1431.0 333.2 L1431.5 334.1 L1432.0 325.1 L1432.5 326.9 L1433.0 332.2 L1433.5 332.8 L1434.0 326.3 L1434.5 327.0 L1435.0 331.5 L1435.5 332.3 L1436.0 326.0 L1436.5 324.1 L1437.0 333.5 L1437.5 331.6 L1438.0 326.4 L1438.5 325.8 L1439.0 330.8 L1439.5 329.4 L1440.0 323.5 L1440.5 322.0 L1441.0 330.3 L1441.5 329.6 L1442.0 319.1 L1442.5 317.2 L1443.0 331.8 L1443.5 329.4 L1444.0 319.6 L1444.5 322.7 L1445.0 329.7 L1445.5 328.1 L1446.0 321.2 L1446.5 322.6 L1447.0 327.4 L1447.5 327.9 L1448.0 321.1 L1448.5 320.8 L1449.0 327.3 L1449.5 330.4 L1450.0 318.4 L1450.5 320.8 L1451.0 329.1 L1451.5 329.4 L1452.0 319.8 L1452.5 319.2 L1453.0 329.0 L1453.5 328.1 L1454.0 319.3 L1454.5 317.2 L1455.0 330.4 L1455.5 328.4 L1456.0 323.1 L1456.5 320.3 L1457.0 330.1 L1457.5 329.1 L1458.0 322.0 L1458.5 323.2 L1459.0 329.5 L1459.5 329.8 L1460.0 322.8 L1460.5 324.3 L1461.0 329.3 L1461.5 328.5 L1462.0 323.8 L1462.5 323.0 L1463.0 328.6 L1463.5 331.6 L1464.0 321.6 L1464.5 323.2 L1465.0 328.1 L1465.5 328.8 L1466.0 322.8 L1466.5 322.1 L1467.0 329.9 L1467.5 330.4 L1468.0 321.6 L1468.5 323.9 L1469.0 329.1 L1469.5 328.2 L1470.0 324.8 L1470.5 325.4 L1471.0 330.2 L1471.5 332.9 L1472.0 325.1 L1472.5 326.3 L1473.0 332.0 L1473.5 333.4 L1474.0 327.0 L1474.5 328.4 L1475.0 332.9 L1475.5 333.3 L1476.0 329.3 L1476.5 327.7 L1477.0 336.6 L1477.5 335.4 L1478.0 328.6 L1478.5 330.5 L1479.0 334.8 L1479.5 335.1 L1480.0 329.6 L1480.5 330.1 L1481.0 338.5 L1481.5 338.9 L1482.0 331.8 L1482.5 332.6 L1483.0 336.0 L1483.5 336.8 L1484.0 332.2 L1484.5 331.8 L1485.0 336.2 L1485.5 336.7 L1486.0 330.9 L1486.5 331.2 L1487.0 336.9 L1487.5 337.7 L1488.0 329.4 L1488.5 331.8 L1489.0 335.4 L1489.5 336.3 L1490.0 330.7 L1490.5 329.0 L1491.0 336.0 L1491.5 334.7 L1492.0 329.0 L1492.5 329.2 L1493.0 335.7 L1493.5 335.8 L1494.0 326.4 L1494.5 326.8 L1495.0 335.2 L1495.5 334.2 L1496.0 326.9 L1496.5 327.5 L1497.0 333.8 L1497.5 334.5 L1498.0 323.8 L1498.5 324.1 L1499.0 329.7 L1499.5 329.1 L1500.0 315.7 L1500.5 316.4 L1501.0 325.6 L1501.5 322.4 L1502.0 315.9 L1502.5 310.7 L1503.0 327.2 L1503.5 324.9 L1504.0 315.9 L1504.5 318.6 L1505.0 324.8 L1505.5 326.8 L1506.0 316.0 L1506.5 311.9 L1507.0 329.5 L1507.5 325.5 L1508.0 312.8 L1508.5 310.8 L1509.0 322.9 L1509.5 323.6 L1510.0 309.3 L1510.5 303.2 L1511.0 322.0 L1511.5 322.0 L1512.0 307.6 L1512.5 305.8 L1513.0 321.6 L1513.5 324.5 L1514.0 304.4 L1514.5 307.5 L1515.0 319.3 L1515.5 319.3 L1516.0 308.5 L1516.5 310.3 L1517.0 321.1 L1517.5 324.5 L1518.0 309.4 L1518.5 311.4 L1519.0 319.9 L1519.5 320.2 L1520.0 310.6 L1520.5 312.7 L1521.0 319.0 L1521.5 324.0 L1522.0 310.7 L1522.5 312.9 L1523.0 322.7 L1523.5 328.3 L1524.0 310.7 L1524.5 310.0 L1525.0 319.6 L1525.5 320.8 L1526.0 310.2 L1526.5 299.4 L1527.0 322.6 L1527.5 315.1 L1528.0 302.2 L1528.5 301.2 L1529.0 314.8 L1529.5 314.3 L1530.0 302.3 L1530.5 299.4 L1531.0 315.8 L1531.5 316.1 L1532.0 300.9 L1532.5 304.2 L1533.0 310.8 L1533.5 327.0 L1534.0 297.5 L1534.5 300.5 L1535.0 315.9 L1535.5 317.8 L1536.0 301.5 L1536.5 295.6 L1537.0 322.5 L1537.5 311.3 L1538.0 294.4 L1538.5 284.4 L1539.0 323.2 L1539.5 309.2 L1540.0 287.2 L1540.5 261.8 L1541.0 311.3 L1541.5 297.1 L1542.0 275.9 L1542.5 260.5 L1543.0 313.2 L1543.5 288.8 L1544.0 270.4 L1544.5 263.1 L1545.0 291.8 L1545.5 280.2 L1546.0 268.5 L1546.5 269.4 L1547.0 278.7 L1547.5 274.0 L1548.0 265.2 L1548.5 263.7 L1549.0 276.3 L1549.5 271.3 L1550.0 263.7 L1550.5 265.0 L1551.0 271.4 L1551.5 274.6 L1552.0 262.2 L1552.5 260.8 L1553.0 275.1 L1553.5 288.1 L1554.0 254.9 L1554.5 258.9 L1555.0 283.6 L1555.5 303.2 L1556.0 262.2 L1556.5 262.3 L1557.0 284.2 L1557.5 293.2 L1558.0 255.5 L1558.5 263.8 L1559.0 284.8 L1559.5 284.2 L1560.0 268.1 L1560.5 262.3 L1561.0 280.5 L1561.5 294.4 L1562.0 251.3 L1562.5 264.0 L1563.0 280.9 L1563.5 289.9 L1564.0 248.0 L1564.5 265.2 L1565.0 278.6 L1565.5 285.5 L1566.0 265.6 L1566.5 258.0 L1567.0 293.8 L1567.5 284.6 L1568.0 261.3 L1568.5 243.0 L1569.0 285.5 L1569.5 276.3 L1570.0 252.6 L1570.5 235.3 L1571.0 275.7 L1571.5 270.7 L1572.0 226.7 L1572.5 232.6 L1573.0 268.4 L1573.5 263.3 L1574.0 231.9 L1574.5 234.5 L1575.0 267.7 L1575.5 268.5 L1576.0 219.1 L1576.5 223.4 L1577.0 277.5 L1577.5 267.4 L1578.0 228.8 L1578.5 222.5 L1579.0 260.0 L1579.5 266.8 L1580.0 238.2 L1580.5 236.9 L1581.0 268.3 L1581.5 262.1 L1582.0 232.9 L1582.5 239.8 L1583.0 257.1 L1583.5 278.1 L1584.0 238.6 L1584.5 244.3 L1585.0 268.3 L1585.5 266.9 L1586.0 237.1 L1586.5 238.3 L1587.0 273.1 L1587.5 257.5 L1588.0 232.3 L1588.5 238.0 L1589.0 262.4 L1589.5 256.6 L1590.0 240.4 L1590.5 236.4 L1591.0 253.0 L1591.5 250.5 L1592.0 228.9 L1592.5 229.0 L1593.0 246.4 L1593.5 244.2 L1594.0 229.7 L1594.5 226.5 L1595.0 240.6 L1595.5 241.7 L1596.0 221.6 L1596.5 228.7 L1597.0 240.2 L1597.5 240.6 L1598.0 225.7 L1598.5 222.8 L1599.0 236.8 L1599.5 241.9 L1600.0 226.2 L1600.5 226.0 L1601.0 243.7 L1601.5 256.8 L1602.0 223.9 L1602.5 203.7 L1603.0 243.8 L1603.5 235.4 L1604.0 173.6 L1604.5 186.7 L1605.0 224.1 L1605.5 229.2 L1606.0 170.2 L1606.5 191.3 L1607.0 223.8 L1607.5 227.5 L1608.0 174.8 L1608.5 184.6 L1609.0 228.3 L1609.5 226.9 L1610.0 178.6 L1610.5 164.8 L1611.0 230.4 L1611.5 208.6 L1612.0 178.3 L1612.5 176.7 L1613.0 209.0 L1613.5 228.2 L1614.0 178.1 L1614.5 158.9 L1615.0 210.0 L1615.5 203.8 L1616.0 169.6 L1616.5 170.4 L1617.0 226.7 L1617.5 210.3 L1618.0 162.4 L1618.5 172.6 L1619.0 226.7 L1619.5 205.0 L1620.0 170.1 L1620.5 157.7 L1621.0 209.0 L1621.5 197.5 L1622.0 164.3 L1622.5 169.0 L1623.0 229.6 L1623.5 218.3 L1624.0 178.1 L1624.5 176.6 L1625.0 223.5 L1625.5 232.9 L1626.0 177.5 L1626.5 177.2 L1627.0 221.0 L1627.5 212.5 L1628.0 170.8 L1628.5 176.6 L1629.0 218.8 L1629.5 207.1 L1630.0 174.8 L1630.5 172.0 L1631.0 214.7 L1631.5 243.0 L1632.0 175.4 L1632.5 178.9 L1633.0 218.6 L1633.5 206.3 L1634.0 180.6 L1634.5 176.3 L1635.0 211.7 L1635.5 215.4 L1636.0 186.2 L1636.5 181.0 L1637.0 213.8 L1637.5 209.0 L1638.0 181.5 L1638.5 178.3 L1639.0 206.8 L1639.5 213.0 L1640.0 190.2 L1640.5 191.1 L1641.0 213.5 L1641.5 211.5 L1642.0 176.5 L1642.5 184.9 L1643.0 222.9 L1643.5 223.6 L1644.0 201.5 L1644.5 201.5 L1645.0 229.5 L1645.5 228.2 L1646.0 195.3 L1646.5 201.6 L1647.0 221.9 L1647.5 231.7 L1648.0 200.6 L1648.5 199.7 L1649.0 222.8 L1649.5 222.6 L1650.0 199.1 L1650.5 205.3 L1651.0 221.6 L1651.5 225.8 L1652.0 203.9 L1652.5 208.5 L1653.0 235.4 L1653.5 231.1 L1654.0 206.9 L1654.5 202.2 L1655.0 229.0 L1655.5 230.7 L1656.0 211.4 L1656.5 208.7 L1657.0 236.7 L1657.5 236.2 L1658.0 218.9 L1658.5 227.1 L1659.0 236.9 L1659.5 237.5 L1660.0 222.9 L1660.5 231.7 L1661.0 241.8 L1661.5 237.5 L1662.0 228.8 L1662.5 233.5 L1663.0 238.4 L1663.5 238.9 L1664.0 233.4 L1664.5 233.3 L1665.0 245.7 L1665.5 244.5 L1666.0 224.8 L1666.5 231.3 L1667.0 242.1 L1667.5 243.7 L1668.0 232.2 L1668.5 232.0 L1669.0 242.5 L1669.5 248.0 L1670.0 229.4 L1670.5 230.9 L1671.0 241.3 L1671.5 243.0 L1672.0 222.9 L1672.5 211.6 L1673.0 242.2 L1673.5 244.9 L1674.0 220.9 L1674.5 228.4 L1675.0 248.2 L1675.5 245.9 L1676.0 233.3 L1676.5 231.9 L1677.0 246.3 L1677.5 243.8 L1678.0 227.3 L1678.5 234.3 L1679.0 247.1 L1679.5 252.2 L1680.0 233.7 L1680.5 236.3 L1681.0 246.1 L1681.5 249.0 L1682.0 231.5 L1682.5 235.5 L1683.0 257.4 L1683.5 251.8 L1684.0 233.7 L1684.5 229.2 L1685.0 249.9 L1685.5 249.5 L1686.0 233.3 L1686.5 232.0 L1687.0 247.5 L1687.5 257.4 L1688.0 230.2 L1688.5 231.1 L1689.0 254.7 L1689.5 254.4 L1690.0 231.2 L1690.5 224.1 L1691.0 250.9 L1691.5 254.5 L1692.0 224.0 L1692.5 219.1 L1693.0 247.1 L1693.5 241.4 L1694.0 215.4 L1694.5 218.0 L1695.0 246.2 L1695.5 248.5 L1696.0 224.0 L1696.5 214.1 L1697.0 256.8 L1697.5 251.3 L1698.0 217.9 L1698.5 227.7 L1699.0 246.8 L1699.5 250.5 L1700.0 214.1 L1700.5 224.9 L1701.0 249.3 L1701.5 248.6 L1702.0 218.4 L1702.5 225.4 L1703.0 247.7 L1703.5 239.0 L1704.0 222.8 L1704.5 212.2 L1705.0 246.8 L1705.5 233.7 L1706.0 224.2 L1706.5 223.7 L1707.0 239.9 L1707.5 239.6 L1708.0 229.0 L1708.5 226.4 L1709.0 240.5 L1709.5 248.2 L1710.0 224.8 L1710.5 224.2 L1711.0 241.4 L1711.5 241.9 L1712.0 222.3 L1712.5 229.5 L1713.0 243.8 L1713.5 252.2 L1714.0 232.3 L1714.5 234.0 L1715.0 248.5 L1715.5 249.8 L1716.0 228.4 L1716.5 233.4 L1717.0 249.0 L1717.5 246.7 L1718.0 238.2 L1718.5 236.1 L1719.0 256.8 L1719.5 255.7 L1720.0 230.1 L1720.5 229.1 L1721.0 252.4 L1721.5 255.7 L1722.0 231.2 L1722.5 227.9 L1723.0 255.5 L1723.5 255.8 L1724.0 222.9 L1724.5 236.0 L1725.0 251.3 L1725.5 255.0 L1726.0 233.7 L1726.5 235.4 L1727.0 250.9 L1727.5 253.1 L1728.0 227.3 L1728.5 229.8 L1729.0 258.6" stroke="#f00"/>
</g>
<text x="1225.60" y="462.00" font-size="19.44" text-anchor="end">−20</text>
<line x1="1231.00" y1="411.50" x2="1236.50" y2="411.50" stroke="#000" stroke-width="1.11"/>
<text x="1225.60" y="419.00" font-size="19.44" text-anchor="end">−15</text>
<line x1="1231.00" y1="368.50" x2="1236.50" y2="368.50" stroke="#000" stroke-width="1.11"/>
<text x="1225.60" y="376.00" font-size="19.44" text-anchor="end">−10</text>
<line x1="1231.00" y1="325.50" x2="1236.50" y2="325.50" stroke="#000" stroke-width="1.11"/>
<text x="1225.60" y="333.00" font-size="19.44" text-anchor="end">−5</text>
<line x1="1231.00" y1="282.50" x2="1236.50" y2="282.50" stroke="#000" stroke-width="1.11"/>
<text x="1225.60" y="290.00" font-size="19.44" text-anchor="end">0</text>
<line x1="1231.00" y1="239.50" x2="1236.50" y2="239.50" stroke="#000" stroke-width="1.11"/>
<text x="1225.60" y="247.00" font-size="19.44" text-anchor="end">5</text>
<line x1="1231.00" y1="196.50" x2="1236.50" y2="196.50" stroke="#000" stroke-width="1.11"/>
<text x="1225.60" y="204.00" font-size="19.44" text-anchor="end">10</text>
<line x1="1231.00" y1="153.50" x2="1236.50" y2="153.50" stroke="#000" stroke-width="1.11"/>
<text x="1225.60" y="161.00" font-size="19.44" text-anchor="end">15</text>
<text x="1225.60" y="118.00" font-size="19.44" text-anchor="end">20</text>
<text x="1804.60" y="462.00" font-size="19.44" fill="#f00">0</text>
<line x1="1800.00" y1="386.50" x2="1794.50" y2="386.50" stroke="#f00" stroke-width="1.11"/>
<text x="1804.60" y="394.00" font-size="19.44" fill="#f00">200</text>
<line x1="1800.00" y1="317.50" x2="1794.50" y2="317.50" stroke="#f00" stroke-width="1.11"/>
<text x="1804.60" y="324.00" font-size="19.44" fill="#f00">400</text>
<line x1="1800.00" y1="248.50" x2="1794.50" y2="248.50" stroke="#f00" stroke-width="1.11"/>
<text x="1804.60" y="256.00" font-size="19.44" fill="#f00">600</text>
<line x1="1800.00" y1="179.50" x2="1794.50" y2="179.50" stroke="#f00" stroke-width="1.11"/>
<text x="1804.60" y="186.00" font-size="19.44" fill="#f00">800</text>
<text x="1804.60" y="118.00" font-size="19.44" fill="#f00">1000</text>
<line x1="1270.50" y1="455.00" x2="1270.50" y2="449.50" stroke="#000" stroke-width="1.11"/>
<line x1="1341.50" y1="455.00" x2="1341.50" y2="449.50" stroke="#000" stroke-width="1.11"/>
<line x1="1412.50" y1="455.00" x2="1412.50" y2="449.50" stroke="#000" stroke-width="1.11"/>
<line x1="1483.50" y1="455.00" x2="1483.50" y2="449.50" stroke="#000" stroke-width="1.11"/>
<line x1="1554.50" y1="455.00" x2="1554.50" y2="449.50" stroke="#000" stroke-width="1.11"/>
<line x1="1625.50" y1="455.00" x2="1625.50" y2="449.50" stroke="#000" stroke-width="1.11"/>
<line x1="1696.50" y1="455.00" x2="1696.50" y2="449.50" stroke="#000" stroke-width="1.11"/>
<line x1="1767.50" y1="455.00" x2="1767.50" y2="449.50" stroke="#000" stroke-width="1.11"/>
<rect x="1231" y="110" width="569" height="345" fill="none" stroke="#000" stroke-width="2.08"/>
<line x1="1800.00" y1="108.96" x2="1800.00" y2="456.04" stroke="#f00" stroke-width="2.08"/>
<line x1="1795.00" y1="110.00" x2="1801.04" y2="110.00" stroke="#000" stroke-width="2.08"/>
<line x1="1795.00" y1="455.00" x2="1801.04" y2="455.00" stroke="#000" stroke-width="2.08"/>
<text x="1142.00" y="322.25" font-size="24" transform="rotate(-90 1142.00 322.25)">IMF Bz</text>
<text x="1172.00" y="313.96" font-size="24" transform="rotate(-90 1172.00 313.96)">( nT )</text>
<text x="1880.00" y="354.60" font-size="24" fill="#f00" transform="rotate(-90 1880.00 354.60)">SW Velocity</text>
<text x="1913.00" y="338.56" font-size="24" fill="#f00" transform="rotate(-90 1913.00 338.56)">( km</text>
<text x="1913.00" y="280.99" font-size="24" fill="#f00" transform="rotate(-90 1913.00 280.99)">s</text>
<text x="1902.75" y="268.79" font-size="16.8" fill="#f00" transform="rotate(-90 1902.75 268.79)">−1</text>
<text x="1913.00" y="235.59" font-size="24" fill="#f00" transform="rotate(-90 1913.00 235.59)">)</text>
<clipPath id="c2"><rect x="1231" y="478" width="569" height="344"/></clipPath>
<line x1="1231.00" y1="512.40" x2="1800.00" y2="512.40" stroke="#000" stroke-width="2.08" stroke-dasharray="2.08 3.43"/>
<line x1="1729.40" y1="822.00" x2="1729.40" y2="478.00" stroke="#000" stroke-width="2.78" stroke-dasharray="2.78 4.58"/>
<g clip-path="url(#c2)" fill="none" stroke-width="2.08" stroke-linejoin="round">
<path d="M1231.0 523.2 L1232.3 530.1 L1234.1 535.8 L1237.0 534.1 L1239.8 540.1 L1242.9 531.1 L1246.1 534.5 L1249.2 536.6 L1252.1 538.9 L1254.8 538.0 L1257.6 535.4 L1260.5 535.4 L1263.6 533.9 L1266.5 527.8 L1269.3 528.6 L1272.4 532.4 L1275.5 534.5 L1278.4 533.9 L1281.2 534.7 L1284.3 536.8 L1287.2 534.7 L1290.0 535.4 L1293.1 533.5 L1295.6 532.9 L1298.7 526.3 L1301.9 523.8 L1305.0 531.1 L1307.8 527.8 L1311.3 532.0 L1314.0 533.6 L1316.9 537.6 L1319.8 541.4 L1322.8 541.8 L1326.0 544.2 L1328.8 538.0 L1331.7 539.9 L1334.5 542.4 L1337.6 546.2 L1340.8 535.8 L1343.9 541.4 L1347.0 546.4 L1349.5 546.4 L1352.4 540.1 L1355.2 541.0 L1358.3 543.0 L1361.5 544.3 L1364.6 543.7 L1367.5 542.3 L1370.2 539.8 L1373.1 537.6 L1376.1 554.6 L1379.0 541.4 L1382.2 541.4 L1385.3 541.4 L1388.0 540.5 L1391.2 538.5 L1394.1 537.4 L1397.2 537.3 L1400.1 537.3 L1402.9 537.3 L1406.0 533.9 L1408.9 532.4 L1411.6 531.1 L1414.8 531.7 L1417.9 531.0 L1420.7 529.2 L1423.5 529.9 L1426.4 528.9 L1429.2 529.5 L1432.3 532.6 L1435.5 532.6 L1438.2 527.0 L1441.4 520.1 L1444.2 522.6 L1447.4 537.0 L1450.3 542.6 L1453.3 550.2 L1456.2 552.7 L1459.3 554.3 L1462.4 556.4 L1465.3 558.3 L1468.1 559.3 L1470.8 544.5 L1473.7 545.5 L1476.9 546.2 L1480.0 540.8 L1481.0 540.8 L1483.5 538.9 L1486.0 538.6 L1489.2 537.0 L1492.0 535.8 L1494.8 533.6 L1497.9 534.1 L1501.1 535.8 L1503.6 537.0 L1506.5 545.5 L1509.6 542.0 L1512.4 538.9 L1515.5 543.3 L1518.4 572.8 L1519.3 579.0 L1521.8 580.3 L1524.3 600.4 L1527.2 590.3 L1530.2 585.3 L1532.7 595.3 L1535.2 610.4 L1538.1 596.6 L1541.2 592.2 L1544.3 581.5 L1547.5 568.4 L1550.6 562.7 L1553.8 557.5 L1556.9 553.9 L1559.8 554.6 L1562.8 550.8 L1565.7 549.9 L1568.8 549.9 L1571.6 549.3 L1574.5 547.4 L1577.3 542.0 L1580.7 533.2 L1583.6 527.3 L1586.4 538.3 L1589.5 554.6 L1592.6 556.4 L1595.4 558.7 L1598.3 565.2 L1601.4 568.4 L1604.6 555.2 L1607.1 545.4 L1610.0 553.1 L1613.0 541.1 L1616.2 545.8 L1619.2 549.9 L1622.1 541.4 L1625.0 536.4 L1628.0 536.8 L1630.9 535.4 L1634.0 532.9 L1636.9 540.1 L1639.7 538.9 L1642.8 536.4 L1645.6 534.9 L1648.5 532.4 L1651.6 522.6 L1654.7 519.1 L1657.9 521.3 L1661.0 526.3 L1663.9 536.4 L1666.6 557.7 L1669.5 566.2 L1672.5 554.6 L1675.4 556.8 L1678.6 568.4 L1681.5 570.0 L1684.5 557.5 L1687.3 556.8 L1690.2 556.1 L1693.0 554.6 L1696.1 550.8 L1699.0 547.0 L1702.0 547.7 L1704.9 546.2 L1708.0 543.7 L1711.2 540.1 L1714.1 540.1 L1717.1 540.8 L1720.0 538.9 L1723.1 533.2 L1726.2 526.3" stroke="#000" stroke-width="2.3"/>
<path d="M1231.5 676.5 L1232.0 632.6 L1232.5 632.6 L1233.0 676.5 L1233.5 661.2 L1234.0 645.2 L1234.5 643.8 L1235.0 675.4 L1235.5 664.9 L1236.0 644.7 L1236.5 645.6 L1237.0 658.6 L1237.5 668.7 L1238.0 635.1 L1238.5 644.4 L1239.0 661.0 L1239.5 662.0 L1240.0 639.9 L1240.5 642.0 L1241.0 660.0 L1241.5 660.2 L1242.0 632.9 L1242.5 644.8 L1243.0 657.9 L1243.5 656.4 L1244.0 644.8 L1244.5 626.3 L1245.0 657.7 L1245.5 658.8 L1246.0 644.8 L1246.5 645.5 L1247.0 662.1 L1247.5 669.4 L1248.0 638.9 L1248.5 648.7 L1249.0 668.5 L1249.5 674.6 L1250.0 655.3 L1250.5 659.0 L1251.0 672.7 L1251.5 673.4 L1252.0 657.3 L1252.5 655.2 L1253.0 674.1 L1253.5 673.2 L1254.0 657.7 L1254.5 648.5 L1255.0 704.3 L1255.5 762.1 L1256.0 643.6 L1256.5 638.3 L1257.0 687.8 L1257.5 709.8 L1258.0 632.0 L1258.5 637.6 L1259.0 810.4 L1259.5 687.8 L1260.0 652.7 L1260.5 661.4 L1261.0 688.8 L1261.5 743.9 L1262.0 660.2 L1262.5 656.4 L1263.0 709.6 L1263.5 684.3 L1264.0 658.8 L1264.5 651.8 L1265.0 692.7 L1265.5 678.2 L1266.0 660.1 L1266.5 656.9 L1267.0 684.9 L1267.5 683.5 L1268.0 659.5 L1268.5 648.3 L1269.0 708.5 L1269.5 692.1 L1270.0 652.8 L1270.5 660.5 L1271.0 690.8 L1271.5 708.5 L1272.0 657.2 L1272.5 654.6 L1273.0 680.8 L1273.5 681.3 L1274.0 647.2 L1274.5 625.7 L1275.0 689.4 L1275.5 673.9 L1276.0 644.9 L1276.5 633.1 L1277.0 675.5 L1277.5 675.1 L1278.0 631.3 L1278.5 633.6 L1279.0 674.0 L1279.5 685.3 L1280.0 615.1 L1280.5 638.0 L1281.0 676.7 L1281.5 683.1 L1282.0 634.9 L1282.5 641.0 L1283.0 675.3 L1283.5 682.8 L1284.0 641.3 L1284.5 608.2 L1285.0 721.7 L1285.5 691.0 L1286.0 646.4 L1286.5 622.5 L1287.0 703.6 L1287.5 698.0 L1288.0 640.2 L1288.5 616.3 L1289.0 715.4 L1289.5 757.7 L1290.0 622.1 L1290.5 618.8 L1291.0 713.5 L1291.5 712.9 L1292.0 616.3 L1292.5 636.1 L1293.0 700.3 L1293.5 706.1 L1294.0 629.0 L1294.5 626.7 L1295.0 694.7 L1295.5 709.2 L1296.0 627.3 L1296.5 631.1 L1297.0 688.3 L1297.5 688.9 L1298.0 636.3 L1298.5 622.0 L1299.0 708.0 L1299.5 696.6 L1300.0 656.3 L1300.5 658.4 L1301.0 698.1 L1301.5 727.8 L1302.0 650.7 L1302.5 659.2 L1303.0 703.3 L1303.5 763.8 L1304.0 634.5 L1304.5 627.0 L1305.0 775.4 L1305.5 705.7 L1306.0 671.5 L1306.5 651.4 L1307.0 778.5 L1307.5 780.9 L1308.0 651.4 L1308.5 651.4 L1309.0 746.5 L1309.5 723.7 L1310.0 664.6 L1310.5 651.4 L1311.0 738.3 L1311.5 665.9 L1312.0 640.1 L1312.5 649.9 L1313.0 665.9 L1313.5 665.9 L1314.0 657.2 L1314.5 652.7 L1315.0 671.4 L1315.5 682.5 L1316.0 660.3 L1316.5 653.7 L1317.0 706.0 L1317.5 690.1 L1318.0 661.6 L1318.5 663.3 L1319.0 690.2 L1319.5 682.9 L1320.0 661.0 L1320.5 657.5 L1321.0 689.9 L1321.5 681.8 L1322.0 665.8 L1322.5 661.2 L1323.0 679.7 L1323.5 683.0 L1324.0 648.9 L1324.5 662.2 L1325.0 681.3 L1325.5 686.9 L1326.0 663.4 L1326.5 650.9 L1327.0 700.7 L1327.5 702.9 L1328.0 631.4 L1328.5 622.6 L1329.0 755.8 L1329.5 707.9 L1330.0 624.9 L1330.5 646.6 L1331.0 690.7 L1331.5 696.2 L1332.0 627.6 L1332.5 618.2 L1333.0 716.0 L1333.5 698.8 L1334.0 643.5 L1334.5 650.3 L1335.0 696.9 L1335.5 705.0 L1336.0 628.1 L1336.5 655.4 L1337.0 689.1 L1337.5 692.1 L1338.0 649.8 L1338.5 645.2 L1339.0 706.0 L1339.5 717.3 L1340.0 638.6 L1340.5 649.2 L1341.0 701.3 L1341.5 703.6 L1342.0 622.6 L1342.5 631.2 L1343.0 688.2 L1343.5 676.9 L1344.0 643.4 L1344.5 637.0 L1345.0 688.1 L1345.5 695.3 L1346.0 621.3 L1346.5 634.4 L1347.0 686.3 L1347.5 675.5 L1348.0 646.6 L1348.5 647.9 L1349.0 683.2 L1349.5 676.6 L1350.0 654.6 L1350.5 653.2 L1351.0 674.7 L1351.5 671.7 L1352.0 656.2 L1352.5 647.0 L1353.0 679.1 L1353.5 671.9 L1354.0 645.2 L1354.5 630.1 L1355.0 686.6 L1355.5 676.9 L1356.0 633.0 L1356.5 636.8 L1357.0 668.9 L1357.5 687.8 L1358.0 620.1 L1358.5 643.2 L1359.0 677.4 L1359.5 686.1 L1360.0 642.3 L1360.5 630.2 L1361.0 706.6 L1361.5 679.2 L1362.0 640.0 L1362.5 637.8 L1363.0 675.1 L1363.5 681.6 L1364.0 641.3 L1364.5 615.7 L1365.0 685.8 L1365.5 684.5 L1366.0 646.0 L1366.5 647.3 L1367.0 683.1 L1367.5 697.8 L1368.0 612.5 L1368.5 643.8 L1369.0 671.7 L1369.5 693.1 L1370.0 618.4 L1370.5 644.9 L1371.0 670.6 L1371.5 691.6 L1372.0 647.7 L1372.5 660.6 L1373.0 683.6 L1373.5 683.7 L1374.0 655.7 L1374.5 654.9 L1375.0 688.0 L1375.5 685.3 L1376.0 659.6 L1376.5 659.7 L1377.0 682.6 L1377.5 687.2 L1378.0 643.9 L1378.5 663.3 L1379.0 684.0 L1379.5 684.0 L1380.0 658.7 L1380.5 653.9 L1381.0 692.2 L1381.5 688.1 L1382.0 669.1 L1382.5 672.3 L1383.0 685.3 L1383.5 687.9 L1384.0 671.3 L1384.5 671.5 L1385.0 687.4 L1385.5 687.5 L1386.0 668.8 L1386.5 668.3 L1387.0 686.8 L1387.5 690.4 L1388.0 662.7 L1388.5 666.5 L1389.0 684.4 L1389.5 685.7 L1390.0 668.1 L1390.5 662.1 L1391.0 691.6 L1391.5 689.8 L1392.0 670.5 L1392.5 675.8 L1393.0 691.3 L1393.5 692.3 L1394.0 671.7 L1394.5 665.2 L1395.0 694.6 L1395.5 691.7 L1396.0 670.8 L1396.5 665.2 L1397.0 700.4 L1397.5 716.0 L1398.0 569.0 L1398.5 657.8 L1399.0 701.3 L1399.5 700.4 L1400.0 569.0 L1400.5 623.8 L1401.0 696.9 L1401.5 693.3 L1402.0 659.4 L1402.5 651.9 L1403.0 701.0 L1403.5 694.9 L1404.0 668.5 L1404.5 672.6 L1405.0 693.0 L1405.5 695.8 L1406.0 673.9 L1406.5 658.9 L1407.0 700.4 L1407.5 700.0 L1408.0 667.9 L1408.5 665.3 L1409.0 701.5 L1409.5 702.4 L1410.0 665.5 L1410.5 666.5 L1411.0 703.6 L1411.5 703.5 L1412.0 673.5 L1412.5 675.4 L1413.0 703.4 L1413.5 704.5 L1414.0 679.4 L1414.5 674.9 L1415.0 709.8 L1415.5 714.4 L1416.0 674.1 L1416.5 672.8 L1417.0 721.3 L1417.5 733.9 L1418.0 669.6 L1418.5 677.8 L1419.0 704.5 L1419.5 712.9 L1420.0 659.8 L1420.5 680.1 L1421.0 702.4 L1421.5 707.0 L1422.0 641.4 L1422.5 682.2 L1423.0 699.3 L1423.5 698.7 L1424.0 678.3 L1424.5 546.4 L1425.0 713.3 L1425.5 707.2 L1426.0 669.1 L1426.5 592.4 L1427.0 713.5 L1427.5 735.1 L1428.0 645.0 L1428.5 661.1 L1429.0 710.9 L1429.5 712.9 L1430.0 650.8 L1430.5 675.6 L1431.0 704.0 L1431.5 704.0 L1432.0 678.4 L1432.5 677.7 L1433.0 709.1 L1433.5 697.3 L1434.0 676.3 L1434.5 671.6 L1435.0 696.2 L1435.5 703.0 L1436.0 655.1 L1436.5 662.6 L1437.0 696.4 L1437.5 711.6 L1438.0 647.7 L1438.5 665.1 L1439.0 697.1 L1439.5 696.9 L1440.0 660.6 L1440.5 666.8 L1441.0 698.6 L1441.5 695.4 L1442.0 668.1 L1442.5 634.5 L1443.0 712.9 L1443.5 707.5 L1444.0 666.2 L1444.5 650.2 L1445.0 715.8 L1445.5 727.3 L1446.0 659.0 L1446.5 650.2 L1447.0 705.8 L1447.5 684.9 L1448.0 660.7 L1448.5 659.7 L1449.0 678.5 L1449.5 681.5 L1450.0 635.8 L1450.5 651.6 L1451.0 671.4 L1451.5 675.6 L1452.0 654.4 L1452.5 654.8 L1453.0 675.5 L1453.5 675.5 L1454.0 636.4 L1454.5 648.2 L1455.0 672.3 L1455.5 671.2 L1456.0 651.3 L1456.5 653.8 L1457.0 669.5 L1457.5 669.0 L1458.0 652.3 L1458.5 648.7 L1459.0 664.0 L1459.5 661.5 L1460.0 645.4 L1460.5 640.9 L1461.0 658.1 L1461.5 661.5 L1462.0 634.5 L1462.5 643.2 L1463.0 659.3 L1463.5 660.1 L1464.0 641.3 L1464.5 636.2 L1465.0 663.0 L1465.5 667.8 L1466.0 640.3 L1466.5 638.1 L1467.0 665.9 L1467.5 690.3 L1468.0 633.9 L1468.5 634.8 L1469.0 672.8 L1469.5 674.5 L1470.0 641.5 L1470.5 637.6 L1471.0 678.4 L1471.5 678.8 L1472.0 622.6 L1472.5 642.0 L1473.0 666.1 L1473.5 671.1 L1474.0 621.3 L1474.5 641.1 L1475.0 669.0 L1475.5 672.0 L1476.0 640.6 L1476.5 638.8 L1477.0 689.1 L1477.5 671.5 L1478.0 647.4 L1478.5 649.6 L1479.0 671.5 L1479.5 669.7 L1480.0 653.4 L1480.5 644.7 L1481.0 668.5 L1481.5 671.5 L1482.0 645.3 L1482.5 650.4 L1483.0 664.9 L1483.5 663.2 L1484.0 647.3 L1484.5 644.3 L1485.0 665.5 L1485.5 661.8 L1486.0 649.2 L1486.5 648.4 L1487.0 662.8 L1487.5 667.7 L1488.0 644.3 L1488.5 644.6 L1489.0 659.8 L1489.5 657.3 L1490.0 643.9 L1490.5 638.7 L1491.0 656.3 L1491.5 658.1 L1492.0 624.2 L1492.5 638.6 L1493.0 655.9 L1493.5 655.1 L1494.0 635.6 L1494.5 617.3 L1495.0 655.7 L1495.5 668.4 L1496.0 635.4 L1496.5 636.8 L1497.0 657.5 L1497.5 658.9 L1498.0 631.6 L1498.5 635.9 L1499.0 655.9 L1499.5 663.1 L1500.0 636.7 L1500.5 628.9 L1501.0 653.4 L1501.5 649.4 L1502.0 628.9 L1502.5 630.3 L1503.0 651.9 L1503.5 650.4 L1504.0 612.3 L1504.5 621.9 L1505.0 652.3 L1505.5 656.4 L1506.0 620.6 L1506.5 619.9 L1507.0 686.6 L1507.5 659.6 L1508.0 615.7 L1508.5 605.2 L1509.0 650.8 L1509.5 665.2 L1510.0 591.9 L1510.5 602.4 L1511.0 646.1 L1511.5 628.7 L1512.0 603.3 L1512.5 582.4 L1513.0 620.2 L1513.5 616.6 L1514.0 602.2 L1514.5 603.2 L1515.0 617.4 L1515.5 619.7 L1516.0 572.8 L1516.5 603.9 L1517.0 621.1 L1517.5 620.6 L1518.0 606.0 L1518.5 596.6 L1519.0 623.8 L1519.5 624.0 L1520.0 607.8 L1520.5 603.7 L1521.0 628.1 L1521.5 631.7 L1522.0 603.5 L1522.5 600.1 L1523.0 638.3 L1523.5 630.5 L1524.0 603.7 L1524.5 598.0 L1525.0 626.5 L1525.5 637.6 L1526.0 595.8 L1526.5 589.7 L1527.0 631.2 L1527.5 630.0 L1528.0 601.0 L1528.5 600.5 L1529.0 632.4 L1529.5 637.4 L1530.0 600.0 L1530.5 604.0 L1531.0 624.8 L1531.5 628.4 L1532.0 591.6 L1532.5 596.6 L1533.0 641.2 L1533.5 655.7 L1534.0 596.8 L1534.5 598.2 L1535.0 645.4 L1535.5 638.2 L1536.0 601.2 L1536.5 600.6 L1537.0 637.9 L1537.5 665.2 L1538.0 592.7 L1538.5 575.3 L1539.0 637.8 L1539.5 644.3 L1540.0 547.7 L1540.5 573.0 L1541.0 629.1 L1541.5 650.2 L1542.0 598.0 L1542.5 604.8 L1543.0 683.4 L1543.5 650.2 L1544.0 583.4 L1544.5 601.2 L1545.0 637.0 L1545.5 637.6 L1546.0 607.2 L1546.5 595.2 L1547.0 643.9 L1547.5 632.5 L1548.0 602.5 L1548.5 602.1 L1549.0 636.2 L1549.5 628.1 L1550.0 594.1 L1550.5 606.9 L1551.0 631.7 L1551.5 633.6 L1552.0 611.0 L1552.5 611.0 L1553.0 636.7 L1553.5 650.2 L1554.0 605.4 L1554.5 589.6 L1555.0 639.3 L1555.5 717.3 L1556.0 608.8 L1556.5 603.7 L1557.0 658.8 L1557.5 671.5 L1558.0 601.5 L1558.5 584.7 L1559.0 642.3 L1559.5 643.6 L1560.0 597.4 L1560.5 597.9 L1561.0 681.5 L1561.5 640.4 L1562.0 593.4 L1562.5 597.5 L1563.0 640.2 L1563.5 647.4 L1564.0 604.0 L1564.5 590.1 L1565.0 650.1 L1565.5 699.9 L1566.0 606.3 L1566.5 620.8 L1567.0 744.5 L1567.5 662.7 L1568.0 582.8 L1568.5 611.5 L1569.0 652.8 L1569.5 663.4 L1570.0 610.4 L1570.5 597.4 L1571.0 663.5 L1571.5 657.0 L1572.0 587.8 L1572.5 595.6 L1573.0 697.2 L1573.5 662.1 L1574.0 601.4 L1574.5 593.4 L1575.0 666.1 L1575.5 712.1 L1576.0 577.8 L1576.5 582.0 L1577.0 760.2 L1577.5 704.6 L1578.0 573.4 L1578.5 565.9 L1579.0 703.5 L1579.5 672.3 L1580.0 577.3 L1580.5 583.9 L1581.0 681.1 L1581.5 669.4 L1582.0 572.7 L1582.5 583.8 L1583.0 673.2 L1583.5 689.1 L1584.0 571.5 L1584.5 586.4 L1585.0 663.3 L1585.5 668.4 L1586.0 589.1 L1586.5 590.7 L1587.0 680.9 L1587.5 673.4 L1588.0 570.9 L1588.5 594.3 L1589.0 659.1 L1589.5 648.4 L1590.0 604.0 L1590.5 606.3 L1591.0 636.4 L1591.5 631.2 L1592.0 609.1 L1592.5 608.9 L1593.0 628.3 L1593.5 626.4 L1594.0 611.4 L1594.5 613.1 L1595.0 625.7 L1595.5 633.0 L1596.0 615.2 L1596.5 612.8 L1597.0 628.5 L1597.5 628.9 L1598.0 613.0 L1598.5 609.1 L1599.0 636.4 L1599.5 632.2 L1600.0 611.4 L1600.5 615.3 L1601.0 656.1 L1601.5 792.8 L1602.0 611.8 L1602.5 594.3 L1603.0 643.9 L1603.5 623.6 L1604.0 572.1 L1604.5 589.9 L1605.0 627.1 L1605.5 629.2 L1606.0 565.2 L1606.5 587.1 L1607.0 627.2 L1607.5 626.2 L1608.0 590.7 L1608.5 576.8 L1609.0 633.2 L1609.5 624.4 L1610.0 595.1 L1610.5 564.6 L1611.0 614.5 L1611.5 614.3 L1612.0 596.4 L1612.5 580.8 L1613.0 631.6 L1613.5 654.6 L1614.0 591.3 L1614.5 561.5 L1615.0 640.2 L1615.5 658.9 L1616.0 585.9 L1616.5 591.0 L1617.0 741.4 L1617.5 650.2 L1618.0 581.5 L1618.5 591.3 L1619.0 620.8 L1619.5 622.1 L1620.0 594.2 L1620.5 588.9 L1621.0 620.1 L1621.5 617.3 L1622.0 596.4 L1622.5 591.7 L1623.0 626.5 L1623.5 626.5 L1624.0 590.0 L1624.5 593.9 L1625.0 622.5 L1625.5 678.5 L1626.0 588.3 L1626.5 591.4 L1627.0 795.3 L1627.5 680.7 L1628.0 591.7 L1628.5 587.8 L1629.0 635.6 L1629.5 634.4 L1630.0 585.3 L1630.5 592.9 L1631.0 677.2 L1631.5 799.1 L1632.0 591.5 L1632.5 597.5 L1633.0 687.0 L1633.5 646.5 L1634.0 590.1 L1634.5 582.8 L1635.0 654.6 L1635.5 619.0 L1636.0 577.8 L1636.5 587.8 L1637.0 621.9 L1637.5 622.1 L1638.0 590.7 L1638.5 578.8 L1639.0 629.9 L1639.5 630.6 L1640.0 577.8 L1640.5 582.8 L1641.0 648.9 L1641.5 632.9 L1642.0 570.1 L1642.5 571.5 L1643.0 634.0 L1643.5 632.4 L1644.0 574.4 L1644.5 567.6 L1645.0 644.1 L1645.5 633.2 L1646.0 584.9 L1646.5 562.7 L1647.0 627.2 L1647.5 648.3 L1648.0 548.9 L1648.5 558.1 L1649.0 633.6 L1649.5 629.8 L1650.0 572.5 L1650.5 561.5 L1651.0 663.3 L1651.5 631.8 L1652.0 564.7 L1652.5 573.1 L1653.0 642.9 L1653.5 625.4 L1654.0 559.9 L1654.5 556.4 L1655.0 624.8 L1655.5 638.1 L1656.0 573.0 L1656.5 575.4 L1657.0 632.2 L1657.5 624.5 L1658.0 567.7 L1658.5 595.5 L1659.0 647.1 L1659.5 643.6 L1660.0 600.4 L1660.5 621.2 L1661.0 640.1 L1661.5 654.8 L1662.0 625.9 L1662.5 631.7 L1663.0 674.4 L1663.5 646.3 L1664.0 635.4 L1664.5 628.2 L1665.0 678.4 L1665.5 644.7 L1666.0 598.5 L1666.5 582.2 L1667.0 653.9 L1667.5 642.1 L1668.0 598.1 L1668.5 610.0 L1669.0 647.9 L1669.5 649.5 L1670.0 616.5 L1670.5 607.9 L1671.0 650.1 L1671.5 648.3 L1672.0 623.6 L1672.5 620.2 L1673.0 670.2 L1673.5 651.2 L1674.0 620.4 L1674.5 613.5 L1675.0 647.9 L1675.5 648.6 L1676.0 627.3 L1676.5 625.6 L1677.0 652.2 L1677.5 649.5 L1678.0 623.2 L1678.5 620.3 L1679.0 646.5 L1679.5 649.2 L1680.0 619.1 L1680.5 610.2 L1681.0 644.8 L1681.5 669.0 L1682.0 602.8 L1682.5 613.7 L1683.0 650.8 L1683.5 653.8 L1684.0 606.8 L1684.5 586.6 L1685.0 652.8 L1685.5 667.7 L1686.0 615.7 L1686.5 608.8 L1687.0 651.4 L1687.5 650.9 L1688.0 595.3 L1688.5 611.1 L1689.0 660.5 L1689.5 649.2 L1690.0 613.5 L1690.5 611.5 L1691.0 648.1 L1691.5 649.0 L1692.0 597.8 L1692.5 612.2 L1693.0 657.5 L1693.5 650.1 L1694.0 606.4 L1694.5 599.7 L1695.0 668.4 L1695.5 685.3 L1696.0 612.5 L1696.5 611.7 L1697.0 660.2 L1697.5 641.4 L1698.0 616.1 L1698.5 607.8 L1699.0 637.6 L1699.5 647.1 L1700.0 600.4 L1700.5 617.6 L1701.0 640.0 L1701.5 645.8 L1702.0 621.8 L1702.5 629.1 L1703.0 655.8 L1703.5 648.5 L1704.0 630.9 L1704.5 628.2 L1705.0 646.9 L1705.5 650.5 L1706.0 633.6 L1706.5 630.0 L1707.0 650.0 L1707.5 651.9 L1708.0 632.7 L1708.5 622.8 L1709.0 654.3 L1709.5 660.2 L1710.0 606.6 L1710.5 619.8 L1711.0 657.5 L1711.5 662.0 L1712.0 632.3 L1712.5 602.2 L1713.0 659.5 L1713.5 675.3 L1714.0 637.1 L1714.5 638.5 L1715.0 654.9 L1715.5 665.5 L1716.0 632.2 L1716.5 627.8 L1717.0 651.3 L1717.5 690.3 L1718.0 606.5 L1718.5 615.1 L1719.0 661.4 L1719.5 662.7 L1720.0 601.6 L1720.5 616.6 L1721.0 661.6 L1721.5 651.8 L1722.0 618.4 L1722.5 604.1 L1723.0 652.3 L1723.5 672.8 L1724.0 630.5 L1724.5 618.8 L1725.0 657.8 L1725.5 651.5 L1726.0 624.2 L1726.5 599.7 L1727.0 656.5 L1727.5 682.8 L1728.0 611.1 L1728.5 606.0 L1729.0 676.7" stroke="#f00"/>
</g>
<line x1="1231.00" y1="512.50" x2="1236.50" y2="512.50" stroke="#000" stroke-width="1.11"/>
<text x="1225.60" y="520.00" font-size="19.44" text-anchor="end">0</text>
<line x1="1231.00" y1="581.50" x2="1236.50" y2="581.50" stroke="#000" stroke-width="1.11"/>
<text x="1225.60" y="589.00" font-size="19.44" text-anchor="end">−100</text>
<line x1="1231.00" y1="650.50" x2="1236.50" y2="650.50" stroke="#000" stroke-width="1.11"/>
<text x="1225.60" y="658.00" font-size="19.44" text-anchor="end">−200</text>
<line x1="1231.00" y1="718.50" x2="1236.50" y2="718.50" stroke="#000" stroke-width="1.11"/>
<text x="1225.60" y="726.00" font-size="19.44" text-anchor="end">−300</text>
<line x1="1231.00" y1="787.50" x2="1236.50" y2="787.50" stroke="#000" stroke-width="1.11"/>
<text x="1225.60" y="795.00" font-size="19.44" text-anchor="end">−400</text>
<line x1="1800.00" y1="538.50" x2="1796.30" y2="538.50" stroke="#f00" stroke-width="0.9"/>
<line x1="1800.00" y1="522.50" x2="1796.30" y2="522.50" stroke="#f00" stroke-width="0.9"/>
<line x1="1800.00" y1="512.50" x2="1796.30" y2="512.50" stroke="#f00" stroke-width="0.9"/>
<line x1="1800.00" y1="503.50" x2="1796.30" y2="503.50" stroke="#f00" stroke-width="0.9"/>
<line x1="1800.00" y1="497.50" x2="1796.30" y2="497.50" stroke="#f00" stroke-width="0.9"/>
<line x1="1800.00" y1="491.50" x2="1796.30" y2="491.50" stroke="#f00" stroke-width="0.9"/>
<line x1="1800.00" y1="486.50" x2="1796.30" y2="486.50" stroke="#f00" stroke-width="0.9"/>
<line x1="1800.00" y1="481.50" x2="1796.30" y2="481.50" stroke="#f00" stroke-width="0.9"/>
<text x="1806.06" y="485.60" font-size="19.44" fill="#f00">10</text>
<text x="1831.40" y="479.00" font-size="13.6" fill="#f00">2</text>
<line x1="1800.00" y1="564.50" x2="1794.50" y2="564.50" stroke="#f00" stroke-width="1.11"/>
<line x1="1800.00" y1="624.50" x2="1796.30" y2="624.50" stroke="#f00" stroke-width="0.9"/>
<line x1="1800.00" y1="608.50" x2="1796.30" y2="608.50" stroke="#f00" stroke-width="0.9"/>
<line x1="1800.00" y1="598.50" x2="1796.30" y2="598.50" stroke="#f00" stroke-width="0.9"/>
<line x1="1800.00" y1="589.50" x2="1796.30" y2="589.50" stroke="#f00" stroke-width="0.9"/>
<line x1="1800.00" y1="583.50" x2="1796.30" y2="583.50" stroke="#f00" stroke-width="0.9"/>
<line x1="1800.00" y1="577.50" x2="1796.30" y2="577.50" stroke="#f00" stroke-width="0.9"/>
<line x1="1800.00" y1="572.50" x2="1796.30" y2="572.50" stroke="#f00" stroke-width="0.9"/>
<line x1="1800.00" y1="567.50" x2="1796.30" y2="567.50" stroke="#f00" stroke-width="0.9"/>
<text x="1806.06" y="571.60" font-size="19.44" fill="#f00">10</text>
<text x="1831.40" y="565.00" font-size="13.6" fill="#f00">1</text>
<line x1="1800.00" y1="650.50" x2="1794.50" y2="650.50" stroke="#f00" stroke-width="1.11"/>
<line x1="1800.00" y1="710.50" x2="1796.30" y2="710.50" stroke="#f00" stroke-width="0.9"/>
<line x1="1800.00" y1="694.50" x2="1796.30" y2="694.50" stroke="#f00" stroke-width="0.9"/>
<line x1="1800.00" y1="684.50" x2="1796.30" y2="684.50" stroke="#f00" stroke-width="0.9"/>
<line x1="1800.00" y1="675.50" x2="1796.30" y2="675.50" stroke="#f00" stroke-width="0.9"/>
<line x1="1800.00" y1="669.50" x2="1796.30" y2="669.50" stroke="#f00" stroke-width="0.9"/>
<line x1="1800.00" y1="663.50" x2="1796.30" y2="663.50" stroke="#f00" stroke-width="0.9"/>
<line x1="1800.00" y1="658.50" x2="1796.30" y2="658.50" stroke="#f00" stroke-width="0.9"/>
<line x1="1800.00" y1="653.50" x2="1796.30" y2="653.50" stroke="#f00" stroke-width="0.9"/>
<text x="1806.06" y="657.60" font-size="19.44" fill="#f00">10</text>
<text x="1831.40" y="651.00" font-size="13.6" fill="#f00">0</text>
<line x1="1800.00" y1="736.50" x2="1794.50" y2="736.50" stroke="#f00" stroke-width="1.11"/>
<line x1="1800.00" y1="796.50" x2="1796.30" y2="796.50" stroke="#f00" stroke-width="0.9"/>
<line x1="1800.00" y1="780.50" x2="1796.30" y2="780.50" stroke="#f00" stroke-width="0.9"/>
<line x1="1800.00" y1="770.50" x2="1796.30" y2="770.50" stroke="#f00" stroke-width="0.9"/>
<line x1="1800.00" y1="761.50" x2="1796.30" y2="761.50" stroke="#f00" stroke-width="0.9"/>
<line x1="1800.00" y1="755.50" x2="1796.30" y2="755.50" stroke="#f00" stroke-width="0.9"/>
<line x1="1800.00" y1="749.50" x2="1796.30" y2="749.50" stroke="#f00" stroke-width="0.9"/>
<line x1="1800.00" y1="744.50" x2="1796.30" y2="744.50" stroke="#f00" stroke-width="0.9"/>
<line x1="1800.00" y1="739.50" x2="1796.30" y2="739.50" stroke="#f00" stroke-width="0.9"/>
<text x="1806.06" y="743.60" font-size="19.44" fill="#f00">10</text>
<text x="1831.40" y="737.00" font-size="13.6" fill="#f00">−1</text>
<text x="1806.06" y="829.60" font-size="19.44" fill="#f00">10</text>
<text x="1831.40" y="823.00" font-size="13.6" fill="#f00">−2</text>
<line x1="1270.50" y1="822.00" x2="1270.50" y2="816.50" stroke="#000" stroke-width="1.11"/>
<line x1="1341.50" y1="822.00" x2="1341.50" y2="816.50" stroke="#000" stroke-width="1.11"/>
<line x1="1412.50" y1="822.00" x2="1412.50" y2="816.50" stroke="#000" stroke-width="1.11"/>
<line x1="1483.50" y1="822.00" x2="1483.50" y2="816.50" stroke="#000" stroke-width="1.11"/>
<line x1="1554.50" y1="822.00" x2="1554.50" y2="816.50" stroke="#000" stroke-width="1.11"/>
<line x1="1625.50" y1="822.00" x2="1625.50" y2="816.50" stroke="#000" stroke-width="1.11"/>
<line x1="1696.50" y1="822.00" x2="1696.50" y2="816.50" stroke="#000" stroke-width="1.11"/>
<line x1="1767.50" y1="822.00" x2="1767.50" y2="816.50" stroke="#000" stroke-width="1.11"/>
<rect x="1231" y="478" width="569" height="344" fill="none" stroke="#000" stroke-width="2.08"/>
<line x1="1800.00" y1="476.96" x2="1800.00" y2="823.04" stroke="#f00" stroke-width="2.08"/>
<line x1="1795.00" y1="478.00" x2="1801.04" y2="478.00" stroke="#000" stroke-width="2.08"/>
<line x1="1795.00" y1="822.00" x2="1801.04" y2="822.00" stroke="#000" stroke-width="2.08"/>
<text x="1132.00" y="672.95" font-size="24" transform="rotate(-90 1132.00 672.95)">Dst</text>
<text x="1159.00" y="681.96" font-size="24" transform="rotate(-90 1159.00 681.96)">( nT )</text>
<text x="1875.00" y="725.30" font-size="24" fill="#f00" transform="rotate(-90 1875.00 725.30)">SW Pressure</text>
<text x="1907.00" y="689.40" font-size="24" fill="#f00" transform="rotate(-90 1907.00 689.40)">( nPa )</text>
<line x1="1231.00" y1="931.00" x2="1800.00" y2="931.00" stroke="#000" stroke-width="2.08" stroke-dasharray="2.08 3.43"/>
<line x1="1729.40" y1="1017.00" x2="1729.40" y2="845.00" stroke="#000" stroke-width="2.78" stroke-dasharray="2.78 4.58"/>
<line x1="1231.00" y1="875.50" x2="1234.70" y2="875.50" stroke="#000" stroke-width="0.9"/>
<line x1="1800.00" y1="875.50" x2="1796.30" y2="875.50" stroke="#000" stroke-width="0.9"/>
<line x1="1231.00" y1="867.50" x2="1234.70" y2="867.50" stroke="#000" stroke-width="0.9"/>
<line x1="1800.00" y1="867.50" x2="1796.30" y2="867.50" stroke="#000" stroke-width="0.9"/>
<line x1="1231.00" y1="862.50" x2="1234.70" y2="862.50" stroke="#000" stroke-width="0.9"/>
<line x1="1800.00" y1="862.50" x2="1796.30" y2="862.50" stroke="#000" stroke-width="0.9"/>
<line x1="1231.00" y1="857.50" x2="1234.70" y2="857.50" stroke="#000" stroke-width="0.9"/>
<line x1="1800.00" y1="857.50" x2="1796.30" y2="857.50" stroke="#000" stroke-width="0.9"/>
<line x1="1231.00" y1="854.50" x2="1234.70" y2="854.50" stroke="#000" stroke-width="0.9"/>
<line x1="1800.00" y1="854.50" x2="1796.30" y2="854.50" stroke="#000" stroke-width="0.9"/>
<line x1="1231.00" y1="851.50" x2="1234.70" y2="851.50" stroke="#000" stroke-width="0.9"/>
<line x1="1800.00" y1="851.50" x2="1796.30" y2="851.50" stroke="#000" stroke-width="0.9"/>
<line x1="1231.00" y1="849.50" x2="1234.70" y2="849.50" stroke="#000" stroke-width="0.9"/>
<line x1="1800.00" y1="849.50" x2="1796.30" y2="849.50" stroke="#000" stroke-width="0.9"/>
<line x1="1231.00" y1="846.50" x2="1234.70" y2="846.50" stroke="#000" stroke-width="0.9"/>
<line x1="1800.00" y1="846.50" x2="1796.30" y2="846.50" stroke="#000" stroke-width="0.9"/>
<text x="1217.65" y="846.40" font-size="13.6">3</text>
<text x="1216.85" y="852.80" font-size="19.44" text-anchor="end">10</text>
<line x1="1231.00" y1="888.50" x2="1236.50" y2="888.50" stroke="#000" stroke-width="1.11"/>
<line x1="1800.00" y1="888.50" x2="1794.50" y2="888.50" stroke="#000" stroke-width="1.11"/>
<line x1="1231.00" y1="918.50" x2="1234.70" y2="918.50" stroke="#000" stroke-width="0.9"/>
<line x1="1800.00" y1="918.50" x2="1796.30" y2="918.50" stroke="#000" stroke-width="0.9"/>
<line x1="1231.00" y1="910.50" x2="1234.70" y2="910.50" stroke="#000" stroke-width="0.9"/>
<line x1="1800.00" y1="910.50" x2="1796.30" y2="910.50" stroke="#000" stroke-width="0.9"/>
<line x1="1231.00" y1="905.50" x2="1234.70" y2="905.50" stroke="#000" stroke-width="0.9"/>
<line x1="1800.00" y1="905.50" x2="1796.30" y2="905.50" stroke="#000" stroke-width="0.9"/>
<line x1="1231.00" y1="900.50" x2="1234.70" y2="900.50" stroke="#000" stroke-width="0.9"/>
<line x1="1800.00" y1="900.50" x2="1796.30" y2="900.50" stroke="#000" stroke-width="0.9"/>
<line x1="1231.00" y1="897.50" x2="1234.70" y2="897.50" stroke="#000" stroke-width="0.9"/>
<line x1="1800.00" y1="897.50" x2="1796.30" y2="897.50" stroke="#000" stroke-width="0.9"/>
<line x1="1231.00" y1="894.50" x2="1234.70" y2="894.50" stroke="#000" stroke-width="0.9"/>
<line x1="1800.00" y1="894.50" x2="1796.30" y2="894.50" stroke="#000" stroke-width="0.9"/>
<line x1="1231.00" y1="892.50" x2="1234.70" y2="892.50" stroke="#000" stroke-width="0.9"/>
<line x1="1800.00" y1="892.50" x2="1796.30" y2="892.50" stroke="#000" stroke-width="0.9"/>
<line x1="1231.00" y1="889.50" x2="1234.70" y2="889.50" stroke="#000" stroke-width="0.9"/>
<line x1="1800.00" y1="889.50" x2="1796.30" y2="889.50" stroke="#000" stroke-width="0.9"/>
<text x="1217.65" y="889.40" font-size="13.6">2</text>
<text x="1216.85" y="895.80" font-size="19.44" text-anchor="end">10</text>
<line x1="1231.00" y1="931.50" x2="1236.50" y2="931.50" stroke="#000" stroke-width="1.11"/>
<line x1="1800.00" y1="931.50" x2="1794.50" y2="931.50" stroke="#000" stroke-width="1.11"/>
<line x1="1231.00" y1="961.50" x2="1234.70" y2="961.50" stroke="#000" stroke-width="0.9"/>
<line x1="1800.00" y1="961.50" x2="1796.30" y2="961.50" stroke="#000" stroke-width="0.9"/>
<line x1="1231.00" y1="953.50" x2="1234.70" y2="953.50" stroke="#000" stroke-width="0.9"/>
<line x1="1800.00" y1="953.50" x2="1796.30" y2="953.50" stroke="#000" stroke-width="0.9"/>
<line x1="1231.00" y1="948.50" x2="1234.70" y2="948.50" stroke="#000" stroke-width="0.9"/>
<line x1="1800.00" y1="948.50" x2="1796.30" y2="948.50" stroke="#000" stroke-width="0.9"/>
<line x1="1231.00" y1="943.50" x2="1234.70" y2="943.50" stroke="#000" stroke-width="0.9"/>
<line x1="1800.00" y1="943.50" x2="1796.30" y2="943.50" stroke="#000" stroke-width="0.9"/>
<line x1="1231.00" y1="940.50" x2="1234.70" y2="940.50" stroke="#000" stroke-width="0.9"/>
<line x1="1800.00" y1="940.50" x2="1796.30" y2="940.50" stroke="#000" stroke-width="0.9"/>
<line x1="1231.00" y1="937.50" x2="1234.70" y2="937.50" stroke="#000" stroke-width="0.9"/>
<line x1="1800.00" y1="937.50" x2="1796.30" y2="937.50" stroke="#000" stroke-width="0.9"/>
<line x1="1231.00" y1="935.50" x2="1234.70" y2="935.50" stroke="#000" stroke-width="0.9"/>
<line x1="1800.00" y1="935.50" x2="1796.30" y2="935.50" stroke="#000" stroke-width="0.9"/>
<line x1="1231.00" y1="932.50" x2="1234.70" y2="932.50" stroke="#000" stroke-width="0.9"/>
<line x1="1800.00" y1="932.50" x2="1796.30" y2="932.50" stroke="#000" stroke-width="0.9"/>
<text x="1217.65" y="932.40" font-size="13.6">1</text>
<text x="1216.85" y="938.80" font-size="19.44" text-anchor="end">10</text>
<line x1="1231.00" y1="974.50" x2="1236.50" y2="974.50" stroke="#000" stroke-width="1.11"/>
<line x1="1800.00" y1="974.50" x2="1794.50" y2="974.50" stroke="#000" stroke-width="1.11"/>
<line x1="1231.00" y1="1004.50" x2="1234.70" y2="1004.50" stroke="#000" stroke-width="0.9"/>
<line x1="1800.00" y1="1004.50" x2="1796.30" y2="1004.50" stroke="#000" stroke-width="0.9"/>
<line x1="1231.00" y1="996.50" x2="1234.70" y2="996.50" stroke="#000" stroke-width="0.9"/>
<line x1="1800.00" y1="996.50" x2="1796.30" y2="996.50" stroke="#000" stroke-width="0.9"/>
<line x1="1231.00" y1="991.50" x2="1234.70" y2="991.50" stroke="#000" stroke-width="0.9"/>
<line x1="1800.00" y1="991.50" x2="1796.30" y2="991.50" stroke="#000" stroke-width="0.9"/>
<line x1="1231.00" y1="986.50" x2="1234.70" y2="986.50" stroke="#000" stroke-width="0.9"/>
<line x1="1800.00" y1="986.50" x2="1796.30" y2="986.50" stroke="#000" stroke-width="0.9"/>
<line x1="1231.00" y1="983.50" x2="1234.70" y2="983.50" stroke="#000" stroke-width="0.9"/>
<line x1="1800.00" y1="983.50" x2="1796.30" y2="983.50" stroke="#000" stroke-width="0.9"/>
<line x1="1231.00" y1="980.50" x2="1234.70" y2="980.50" stroke="#000" stroke-width="0.9"/>
<line x1="1800.00" y1="980.50" x2="1796.30" y2="980.50" stroke="#000" stroke-width="0.9"/>
<line x1="1231.00" y1="978.50" x2="1234.70" y2="978.50" stroke="#000" stroke-width="0.9"/>
<line x1="1800.00" y1="978.50" x2="1796.30" y2="978.50" stroke="#000" stroke-width="0.9"/>
<line x1="1231.00" y1="975.50" x2="1234.70" y2="975.50" stroke="#000" stroke-width="0.9"/>
<line x1="1800.00" y1="975.50" x2="1796.30" y2="975.50" stroke="#000" stroke-width="0.9"/>
<text x="1217.65" y="975.40" font-size="13.6">0</text>
<text x="1216.85" y="981.80" font-size="19.44" text-anchor="end">10</text>
<text x="1206.25" y="1018.40" font-size="13.6">−1</text>
<text x="1205.45" y="1024.80" font-size="19.44" text-anchor="end">10</text>
<line x1="1270.50" y1="1017.00" x2="1270.50" y2="1011.50" stroke="#000" stroke-width="1.11"/>
<line x1="1341.50" y1="1017.00" x2="1341.50" y2="1011.50" stroke="#000" stroke-width="1.11"/>
<line x1="1412.50" y1="1017.00" x2="1412.50" y2="1011.50" stroke="#000" stroke-width="1.11"/>
<line x1="1483.50" y1="1017.00" x2="1483.50" y2="1011.50" stroke="#000" stroke-width="1.11"/>
<line x1="1554.50" y1="1017.00" x2="1554.50" y2="1011.50" stroke="#000" stroke-width="1.11"/>
<line x1="1625.50" y1="1017.00" x2="1625.50" y2="1011.50" stroke="#000" stroke-width="1.11"/>
<line x1="1696.50" y1="1017.00" x2="1696.50" y2="1011.50" stroke="#000" stroke-width="1.11"/>
<line x1="1767.50" y1="1017.00" x2="1767.50" y2="1011.50" stroke="#000" stroke-width="1.11"/>
<rect x="1231" y="845" width="569" height="172" fill="none" stroke="#000" stroke-width="2.08"/>
<text x="1269.10" y="1037.00" font-size="19.44" text-anchor="middle">02</text>
<text x="1340.15" y="1037.00" font-size="19.44" text-anchor="middle">03</text>
<text x="1411.20" y="1037.00" font-size="19.44" text-anchor="middle">04</text>
<text x="1482.25" y="1037.00" font-size="19.44" text-anchor="middle">05</text>
<text x="1553.30" y="1037.00" font-size="19.44" text-anchor="middle">06</text>
<text x="1624.35" y="1037.00" font-size="19.44" text-anchor="middle">07</text>
<text x="1695.40" y="1037.00" font-size="19.44" text-anchor="middle">08</text>
<text x="1766.45" y="1037.00" font-size="19.44" text-anchor="middle">09</text>
<text x="1133.00" y="1058.84" font-size="24" transform="rotate(-90 1133.00 1058.84)">&gt;10 MeV Proton Flux</text>
<text x="1166.00" y="1018.76" font-size="24" fill="#000" transform="rotate(-90 1166.00 1018.76)">( cm</text>
<text x="1155.80" y="966.43" font-size="16.8" fill="#000" transform="rotate(-90 1155.80 966.43)">2</text>
<text x="1166.00" y="950.10" font-size="24" fill="#000" transform="rotate(-90 1166.00 950.10)">s</text>
<text x="1155.80" y="935.88" font-size="16.8" fill="#000" transform="rotate(-90 1155.80 935.88)">−1</text>
<text x="1166.00" y="906.80" font-size="24" fill="#000" transform="rotate(-90 1166.00 906.80)">sr</text>
<text x="1155.80" y="886.28" font-size="16.8" fill="#000" transform="rotate(-90 1155.80 886.28)">−1</text>
<text x="1166.00" y="853.42" font-size="24" fill="#000" transform="rotate(-90 1166.00 853.42)">)</text>
<text x="1512.00" y="1066.00" font-size="24" text-anchor="middle" textLength="137.8" lengthAdjust="spacing">March/April</text>
<text x="1515.80" y="1094.00" font-size="24" text-anchor="middle">2025 (UT)</text>
</svg>
</body></html>
